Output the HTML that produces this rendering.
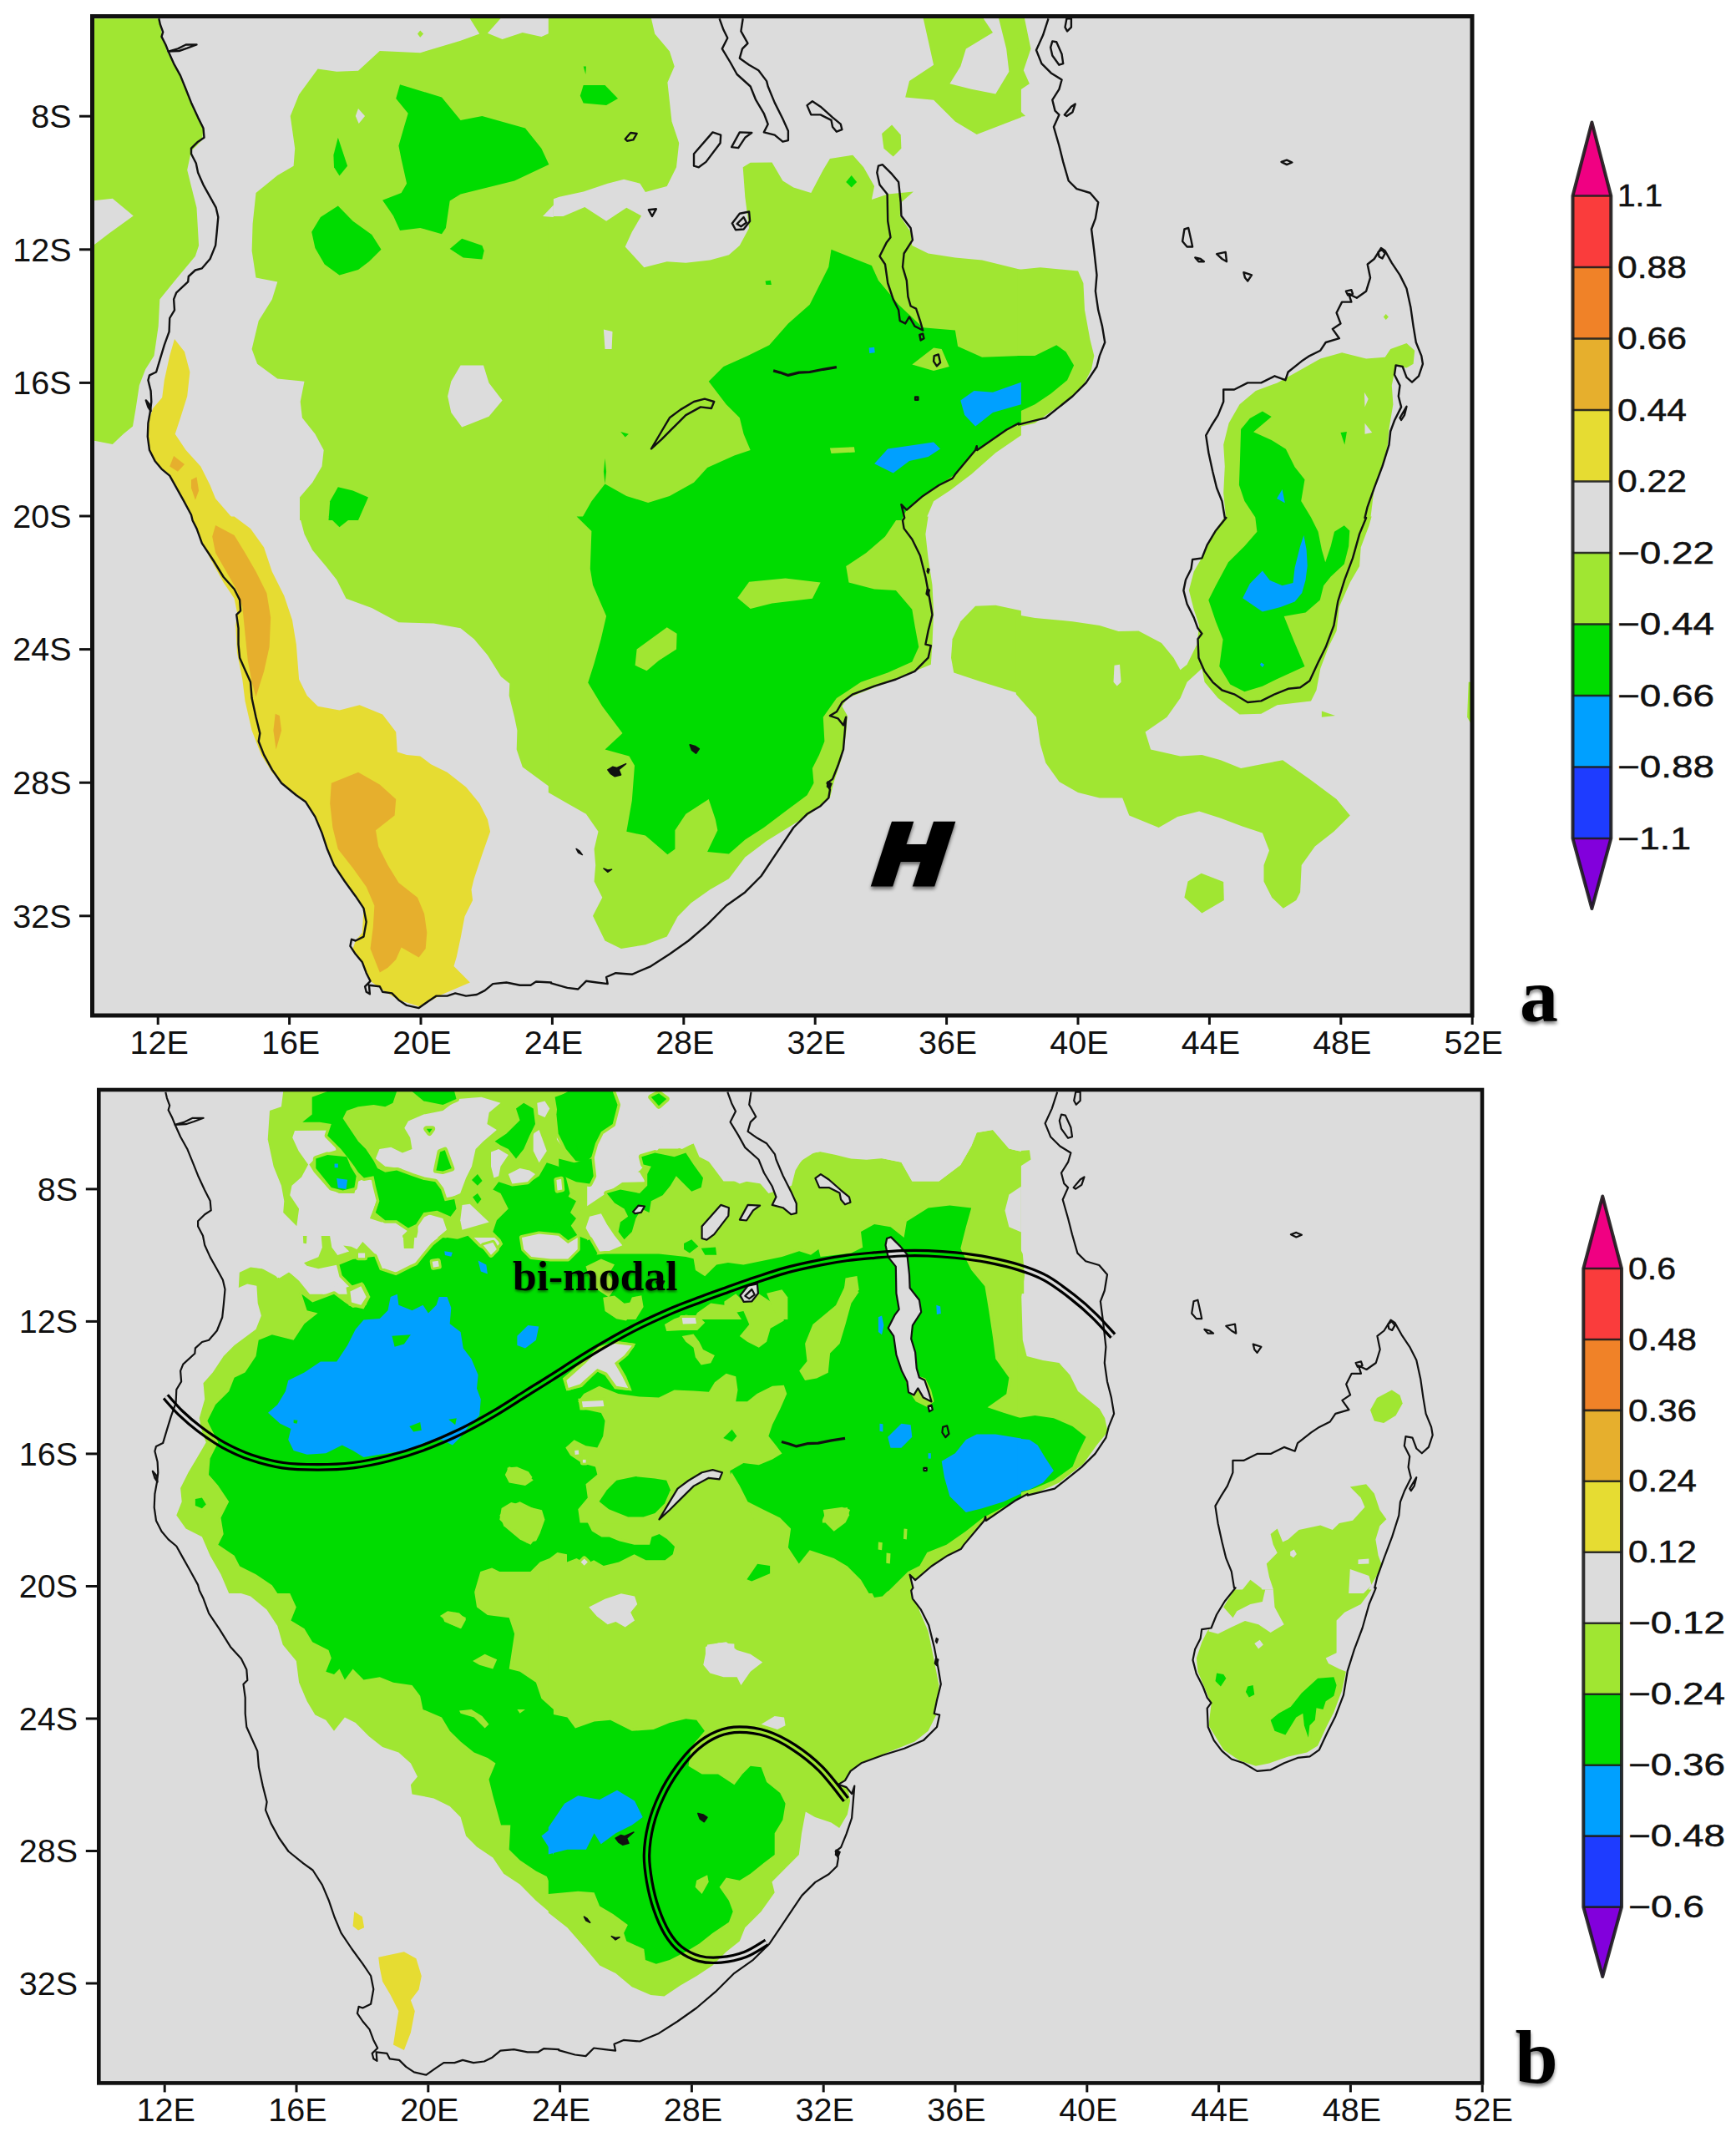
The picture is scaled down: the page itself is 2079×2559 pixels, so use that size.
<!DOCTYPE html><html><head><meta charset="utf-8"><title>fig</title><style>html,body{margin:0;padding:0;background:#fff}svg{display:block}</style></head><body><svg width="2079" height="2559" viewBox="0 0 2079 2559" font-family="'Liberation Sans', sans-serif" fill="#111"><defs><clipPath id="ca"><rect x="110.5" y="19.5" width="1652.5" height="1196.5"/></clipPath><clipPath id="cb"><rect x="118.3" y="1305" width="1656.7" height="1189.4"/></clipPath><filter id="sh" x="-20%" y="-20%" width="140%" height="150%"><feGaussianBlur in="SourceAlpha" stdDeviation="2.2"/><feOffset dx="0" dy="3"/><feComponentTransfer><feFuncA type="linear" slope="0.55"/></feComponentTransfer><feMerge><feMergeNode/><feMergeNode in="SourceGraphic"/></feMerge></filter><filter id="sh2" x="-10%" y="-20%" width="120%" height="150%"><feGaussianBlur in="SourceAlpha" stdDeviation="1.6"/><feOffset dx="0" dy="2"/><feComponentTransfer><feFuncA type="linear" slope="0.5"/></feComponentTransfer><feMerge><feMergeNode/><feMergeNode in="SourceGraphic"/></feMerge></filter></defs><rect width="2079" height="2559" fill="#fff"/><rect x="110.5" y="19.5" width="1652.5" height="1196.5" fill="#dcdcdc"/><g clip-path="url(#ca)"><path d="M112.9 22.3 L190.3 22.3 L193.5 39.0 L200.0 61.6 L216.1 90.6 L229.0 122.9 L243.5 155.2 L241.9 168.1 L229.0 181.0 L224.2 203.5 L229.0 222.9 L235.5 248.7 L238.1 293.9 L233.9 306.8 L209.7 335.8 L191.3 358.4 L189.7 390.6 L184.5 426.1 L174.2 442.3 L166.8 461.6 L162.9 487.4 L159.0 510.6 L147.7 519.7 L134.8 531.9 L112.9 527.7Z" fill="#a0e632"/><path d="M561.3 19.7 L601.6 19.7 L583.9 39.7 L601.6 47.1 L625.8 39.0 L648.4 43.9 L662.9 37.4 L662.9 622.9 L359.0 622.9 L359.0 595.5 L374.2 577.7 L385.5 558.4 L387.7 539.0 L377.4 519.7 L361.9 500.3 L359.7 481.0 L364.5 456.8 L332.3 453.5 L308.1 435.8 L301.6 418.1 L309.7 384.2 L325.8 358.4 L332.3 337.4 L306.5 332.6 L301.6 300.3 L302.6 268.1 L306.5 231.0 L332.3 210.0 L351.6 198.7 L353.2 177.7 L347.7 139.0 L358.1 113.2 L380.6 82.6 L403.2 85.8 L429.0 84.8 L454.8 61.0 L503.2 63.2 L551.6 48.7 L574.2 40.6Z" fill="#a0e632"/><path d="M503.2 36.5 L507.1 40.6 L503.2 44.8 L500.0 40.6Z" fill="#a0e632"/><path d="M656.8 19.7 L779.4 19.7 L784.2 40.6 L801.9 61.6 L807.7 79.4 L799.4 98.7 L804.5 145.5 L813.2 171.3 L810.0 200.3 L798.7 222.9 L772.9 230.0 L766.5 219.7 L747.1 214.8 L727.7 219.7 L698.7 229.4 L669.7 235.8 L656.8 240.6Z" fill="#a0e632"/><path d="M656.8 259.0 L674.5 259.0 L700.3 248.1 L726.1 264.8 L750.3 248.7 L768.1 258.4 L756.8 277.7 L748.7 295.5 L771.3 320.3 L798.7 313.2 L821.3 314.8 L850.3 311.6 L872.9 305.2 L885.8 293.9 L897.1 272.9 L892.3 235.8 L889.7 200.3 L898.7 194.8 L924.5 194.5 L937.4 216.5 L950.3 224.5 L971.3 231.0 L985.8 203.5 L993.9 190.0 L1021.3 185.8 L1034.2 200.3 L1047.1 222.9 L1043.9 239.0 L1063.2 232.6 L1093.9 229.4 L1079.4 242.3 L1077.7 258.4 L1090.6 277.7 L1092.3 293.9 L1111.6 303.5 L1143.9 308.4 L1176.1 311.6 L1222.9 322.9 L1222.9 521.3 L1192.3 542.3 L1163.2 568.1 L1137.4 587.4 L1118.1 600.3 L1108.4 622.9 L656.8 622.9Z" fill="#a0e632"/><path d="M1105.2 19.7 L1118.1 77.7 L1089.0 97.1 L1084.2 116.5 L1118.1 119.7 L1143.9 145.5 L1169.7 161.0 L1222.9 140.6 L1222.9 19.7Z" fill="#a0e632"/><path d="M1068.1 149.4 L1078.7 161.6 L1079.4 177.7 L1069.7 187.4 L1058.4 177.7 L1056.1 160.0Z" fill="#a0e632"/><path d="M1218.4 19.7 L1226.5 19.7 L1234.5 58.4 L1225.8 84.2 L1232.9 100.3 L1218.4 110.0Z" fill="#a0e632"/><path d="M1218.4 129.4 L1228.1 139.0 L1218.4 140.6Z" fill="#a0e632"/><path d="M1218.4 322.9 L1245.8 320.3 L1291.0 324.5 L1297.4 339.0 L1299.0 371.3 L1305.5 406.8 L1310.3 426.1 L1307.1 442.3 L1297.4 461.6 L1281.3 477.7 L1261.9 490.6 L1239.4 506.8 L1218.4 511.6Z" fill="#a0e632"/><path d="M1468.4 622.9 L1465.2 590.6 L1466.8 558.4 L1465.2 532.6 L1471.6 506.8 L1484.5 484.2 L1503.9 468.1 L1529.7 458.4 L1558.7 442.3 L1581.3 429.4 L1607.1 422.3 L1636.1 429.4 L1658.7 427.7 L1665.2 418.1 L1684.5 411.0 L1694.2 419.7 L1692.6 435.8 L1684.5 440.6 L1671.6 437.4 L1666.8 461.6 L1668.4 484.2 L1663.5 513.2 L1661.9 532.6 L1655.5 558.4 L1645.8 584.2 L1641.0 622.9Z" fill="#a0e632"/><path d="M1659.7 376.1 L1662.9 379.4 L1659.7 382.9 L1656.8 379.4Z" fill="#a0e632"/><path d="M359.0 618.4 L364.5 639.4 L374.2 658.7 L390.3 678.1 L403.2 694.2 L414.5 716.8 L445.2 728.1 L477.4 745.2 L519.4 746.5 L551.6 752.3 L567.7 765.2 L583.9 784.5 L600.0 810.3 L610.3 818.4 L609.7 832.9 L616.1 858.7 L619.4 874.8 L618.7 897.4 L625.8 918.4 L662.9 945.8 L662.9 618.4Z" fill="#a0e632"/><path d="M656.8 618.4 L1111.6 618.4 L1108.4 639.4 L1111.6 668.4 L1116.5 700.6 L1118.1 732.9 L1116.5 771.6 L1114.8 795.8 L1079.4 810.3 L1047.1 823.2 L1014.8 836.1 L1008.4 845.8 L1014.8 857.1 L1013.2 878.1 L1008.4 907.1 L998.7 936.1 L993.9 955.5 L969.7 974.8 L943.9 991.0 L918.1 1007.1 L892.3 1026.5 L872.9 1052.3 L850.3 1065.2 L827.7 1081.3 L811.6 1097.4 L798.7 1121.6 L772.9 1131.3 L743.9 1136.1 L724.5 1126.5 L710.0 1096.8 L721.3 1074.8 L711.6 1055.5 L713.2 1036.1 L711.6 1016.8 L716.5 995.8 L701.9 974.8 L679.4 961.9 L656.8 949.0Z" fill="#a0e632"/><path d="M1222.9 731.3 L1192.3 724.8 L1168.1 725.8 L1150.3 744.2 L1140.6 765.2 L1139.0 787.7 L1142.3 805.5 L1176.1 816.8 L1222.9 831.3Z" fill="#a0e632"/><path d="M1466.8 618.4 L1452.3 639.4 L1442.6 661.9 L1429.7 684.5 L1423.9 707.1 L1429.7 729.7 L1436.1 749.0 L1433.5 771.6 L1439.4 800.6 L1442.6 816.8 L1458.7 836.1 L1484.5 855.5 L1510.3 854.8 L1529.7 844.2 L1570.0 839.4 L1576.5 826.5 L1581.3 800.6 L1591.0 774.8 L1600.6 755.5 L1603.9 726.5 L1616.8 697.4 L1628.1 678.1 L1629.7 655.5 L1639.4 629.7 L1642.6 618.4Z" fill="#a0e632"/><path d="M1216.8 736.1 L1239.4 740.0 L1284.5 744.2 L1316.8 749.0 L1339.4 756.1 L1363.5 755.5 L1391.0 770.0 L1405.5 787.7 L1413.5 802.3 L1421.6 795.8 L1433.5 771.6 L1439.4 800.6 L1421.6 816.8 L1413.5 836.1 L1397.4 858.7 L1371.6 876.5 L1378.1 897.4 L1413.5 905.5 L1439.4 903.9 L1461.9 910.3 L1486.1 920.0 L1510.3 915.2 L1536.1 910.3 L1568.4 932.9 L1600.6 957.1 L1616.8 976.5 L1597.4 995.8 L1574.8 1013.5 L1558.7 1036.1 L1557.1 1068.4 L1552.3 1078.1 L1536.8 1087.7 L1523.2 1074.8 L1513.5 1055.5 L1513.5 1036.1 L1520.0 1018.4 L1511.9 997.4 L1487.7 989.4 L1461.9 979.7 L1436.1 971.6 L1410.3 978.1 L1387.7 991.0 L1352.3 976.5 L1344.2 955.5 L1316.8 955.5 L1291.0 949.0 L1268.4 936.1 L1252.3 913.5 L1245.8 891.0 L1241.0 858.7 L1216.8 831.3Z" fill="#a0e632"/><path d="M1438.7 1045.8 L1465.2 1056.1 L1465.8 1078.1 L1439.4 1093.5 L1418.4 1074.8 L1422.6 1055.5Z" fill="#a0e632"/><path d="M1582.9 851.6 L1599.0 857.1 L1582.9 858.7Z" fill="#a0e632"/><path d="M1758.7 816.8 L1762.6 816.8 L1762.6 868.4 L1757.1 858.7Z" fill="#a0e632"/><path d="M109.7 240.6 L134.8 237.7 L159.7 258.4 L130.6 279.4 L109.7 295.5Z" fill="#dcdcdc"/><path d="M429.0 130.0 L437.1 139.0 L429.7 148.1 L425.8 139.0Z" fill="#dcdcdc"/><path d="M551.6 437.4 L579.0 437.4 L585.5 458.4 L601.6 479.4 L585.5 498.7 L553.2 511.6 L540.3 493.9 L536.1 474.5 L540.3 456.8Z" fill="#dcdcdc"/><path d="M662.9 245.5 L650.0 259.0 L662.9 260.0Z" fill="#dcdcdc"/><path d="M1176.1 19.7 L1189.0 39.0 L1156.8 58.4 L1150.3 79.4 L1137.4 100.3 L1163.2 106.8 L1192.3 112.6 L1208.4 85.8 L1205.2 58.4 L1195.5 19.7Z" fill="#dcdcdc"/><path d="M722.9 394.5 L733.5 397.1 L732.6 418.1 L724.5 418.1Z" fill="#dcdcdc"/><path d="M1633.9 469.7 L1638.7 477.7 L1634.5 487.4Z" fill="#dcdcdc"/><path d="M1634.5 506.8 L1643.2 518.1 L1634.5 519.7Z" fill="#dcdcdc"/><path d="M1334.5 796.8 L1341.0 795.8 L1342.6 816.8 L1337.7 821.6 L1333.5 816.8Z" fill="#dcdcdc"/><path d="M479.0 101.3 L529.0 116.5 L551.6 143.9 L577.4 139.0 L629.0 153.5 L648.4 177.7 L657.4 197.1 L616.1 216.5 L551.6 232.6 L538.7 240.6 L533.9 272.9 L529.0 280.3 L503.2 272.9 L479.0 276.1 L471.0 258.4 L458.1 239.7 L480.6 231.0 L487.1 219.7 L480.6 190.6 L477.4 174.5 L483.9 151.9 L488.7 135.8 L474.2 118.1Z" fill="#00dc00"/><path d="M404.8 246.5 L422.6 264.8 L445.2 281.0 L456.5 298.7 L441.9 313.2 L429.0 322.9 L406.5 329.4 L388.7 316.5 L377.4 297.1 L373.2 277.7 L383.9 260.0Z" fill="#00dc00"/><path d="M404.8 164.8 L411.3 184.2 L416.1 198.7 L406.5 210.6 L400.0 200.3 L399.4 185.8Z" fill="#00dc00"/><path d="M553.2 285.8 L577.4 293.9 L579.7 300.3 L577.4 310.6 L554.8 308.4 L538.7 298.1Z" fill="#00dc00"/><path d="M404.8 583.2 L422.6 587.4 L441.0 595.5 L429.0 622.9 L393.5 622.9 L395.2 600.3Z" fill="#00dc00"/><path d="M698.7 101.9 L724.5 101.9 L740.0 118.1 L726.1 126.1 L698.7 123.5 L694.8 114.8Z" fill="#00dc00"/><path d="M698.7 79.4 L701.9 79.4 L701.3 89.0Z" fill="#00dc00"/><path d="M995.5 298.7 L1043.9 318.1 L1051.9 335.8 L1076.1 364.8 L1105.2 392.3 L1143.9 395.5 L1147.1 414.8 L1176.1 427.7 L1222.9 426.1 L1222.9 506.8 L1205.2 514.8 L1189.0 526.1 L1168.1 540.6 L1143.9 568.1 L1124.5 581.0 L1105.2 593.9 L1085.8 610.6 L1079.4 622.9 L695.5 622.9 L708.4 600.3 L724.5 579.4 L722.9 564.8 L724.5 548.7 L726.1 564.8 L724.5 579.4 L750.3 593.9 L776.1 601.9 L801.9 593.9 L831.0 577.7 L847.1 560.0 L879.4 545.5 L898.7 539.0 L890.6 519.7 L885.8 500.3 L869.7 484.2 L848.7 456.8 L866.5 439.0 L895.5 426.1 L921.3 413.2 L943.9 387.4 L969.7 364.8 L981.0 342.3 L992.3 319.7Z" fill="#00dc00"/><path d="M1019.7 210.0 L1026.1 218.1 L1019.7 224.5 L1013.2 218.1Z" fill="#00dc00"/><path d="M916.5 336.5 L922.9 335.8 L923.9 341.0 L917.4 341.0Z" fill="#00dc00"/><path d="M743.2 517.1 L752.9 519.7 L748.7 523.5Z" fill="#00dc00"/><path d="M1218.4 426.1 L1239.4 426.1 L1265.2 413.2 L1276.5 421.3 L1286.1 437.4 L1278.1 455.2 L1258.7 471.3 L1239.4 484.2 L1218.4 493.9Z" fill="#00dc00"/><path d="M1605.5 518.1 L1612.9 517.1 L1610.3 532.6Z" fill="#00dc00"/><path d="M393.5 618.4 L406.5 631.3 L422.6 618.4Z" fill="#00dc00"/><path d="M690.6 618.4 L708.4 636.1 L706.8 681.3 L710.0 700.6 L726.1 737.7 L719.7 765.2 L711.6 794.2 L704.2 817.4 L721.3 845.8 L745.5 878.1 L724.5 897.4 L753.5 905.5 L760.0 916.8 L756.8 958.7 L750.3 995.8 L772.9 1000.6 L799.4 1023.2 L808.4 1016.8 L808.4 994.2 L821.3 974.8 L848.7 957.1 L856.8 981.3 L859.4 994.2 L847.1 1020.0 L872.9 1022.6 L892.3 1005.5 L914.8 991.0 L940.6 971.6 L966.5 952.3 L974.5 937.7 L972.9 920.0 L981.0 903.9 L987.4 887.7 L985.8 858.7 L1001.9 836.1 L1031.0 816.8 L1063.2 805.5 L1092.3 792.6 L1100.3 774.8 L1095.5 749.0 L1092.3 729.7 L1072.9 707.1 L1047.1 705.5 L1016.5 697.4 L1013.2 678.1 L1037.4 661.9 L1060.0 642.6 L1076.1 618.4Z" fill="#00dc00"/><path d="M1511.9 492.5 L1522.7 499.0 L1501.1 517.3 L1522.7 527.0 L1539.9 537.7 L1550.6 559.2 L1562.5 574.3 L1558.2 600.1 L1570.0 619.5 L1578.6 636.7 L1582.9 658.2 L1587.2 673.3 L1593.7 653.9 L1598.0 636.7 L1609.8 629.2 L1616.3 635.6 L1615.2 653.9 L1609.8 675.4 L1593.7 690.5 L1585.1 701.3 L1580.8 718.5 L1563.5 733.5 L1537.7 737.9 L1550.6 770.1 L1562.5 798.1 L1529.1 813.2 L1511.9 821.8 L1490.4 828.2 L1473.2 819.6 L1460.3 798.1 L1464.6 765.8 L1456.0 744.3 L1447.3 718.5 L1456.0 701.3 L1471.0 673.3 L1490.4 653.9 L1505.4 636.7 L1503.3 619.5 L1490.4 600.1 L1483.9 580.8 L1485.0 550.6 L1486.1 514.1 L1496.8 501.1Z" fill="#00dc00"/><path d="M1092.3 436.5 L1118.1 416.5 L1127.7 418.1 L1136.8 439.0 L1118.1 443.9Z" fill="#a0e632"/><path d="M993.9 536.5 L1022.9 535.2 L1023.9 541.6 L995.5 542.9Z" fill="#a0e632"/><path d="M897.1 696.8 L940.6 692.6 L982.6 697.4 L972.9 716.8 L924.5 722.6 L898.7 729.0 L883.2 716.1Z" fill="#a0e632"/><path d="M762.6 777.4 L798.7 751.3 L810.6 758.7 L810.0 777.4 L789.0 791.0 L774.5 803.2 L760.6 796.8Z" fill="#a0e632"/><path d="M1150.3 479.4 L1166.5 468.1 L1189.0 469.7 L1222.9 457.7 L1222.9 484.2 L1189.0 493.9 L1168.1 510.6 L1155.2 497.1Z" fill="#00a0ff"/><path d="M1047.1 555.2 L1063.2 537.4 L1118.1 529.4 L1126.1 537.4 L1111.6 547.1 L1089.0 551.9 L1069.7 566.5Z" fill="#00a0ff"/><path d="M1040.6 416.5 L1047.1 415.8 L1047.7 422.3 L1041.3 422.9Z" fill="#00a0ff"/><path d="M1218.4 469.7 L1222.6 474.5 L1218.4 482.6Z" fill="#00a0ff"/><path d="M1510.3 793.5 L1514.2 795.8 L1511.9 799.0 L1509.0 796.1Z" fill="#00a0ff"/><path d="M1511.9 683.6 L1520.5 694.8 L1535.6 701.3 L1548.5 698.0 L1550.6 679.8 L1557.1 653.9 L1561.4 641.0 L1564.6 658.2 L1565.7 677.6 L1563.5 694.8 L1559.2 709.9 L1550.6 720.6 L1533.4 727.1 L1511.9 732.5 L1488.2 716.3 L1496.8 699.1Z" fill="#00a0ff"/><path d="M1535.6 586.1 L1538.8 602.3 L1529.1 596.9Z" fill="#00a0ff"/><path d="M209.0 406.1 L221.0 421.3 L227.4 445.5 L224.2 474.5 L216.1 500.3 L209.7 519.7 L222.6 539.0 L240.3 558.4 L251.6 581.0 L258.1 597.1 L280.6 622.9 L230.6 622.9 L219.4 597.1 L203.2 568.1 L190.3 558.4 L179.0 539.0 L176.8 519.7 L179.0 500.3 L183.2 489.0 L194.2 476.1 L196.8 455.2 L203.2 426.1Z" fill="#e6dc32"/><path d="M280.6 618.4 L300.0 632.9 L316.1 655.5 L325.8 684.5 L340.3 713.5 L350.0 742.6 L354.8 771.6 L358.1 813.5 L367.7 832.9 L380.6 845.8 L406.5 850.6 L430.6 844.2 L458.1 855.5 L474.2 876.5 L475.8 900.6 L487.1 903.9 L503.2 905.5 L516.1 915.2 L535.5 924.8 L558.1 942.6 L574.2 961.9 L583.9 981.3 L587.1 995.8 L577.4 1023.2 L567.7 1052.3 L564.5 1065.2 L566.1 1078.1 L556.5 1097.4 L551.6 1123.2 L546.8 1145.8 L543.5 1157.1 L562.9 1176.5 L529.0 1191.0 L503.2 1205.5 L477.4 1197.4 L454.8 1182.9 L443.5 1174.8 L435.5 1155.5 L422.6 1136.1 L425.8 1126.5 L433.9 1116.8 L435.5 1087.7 L425.8 1073.2 L412.9 1055.5 L400.0 1036.1 L391.9 1016.8 L385.5 997.4 L377.4 978.1 L366.1 960.3 L354.8 952.3 L337.1 937.7 L325.8 924.8 L312.9 903.9 L301.6 874.8 L293.5 839.4 L290.3 813.5 L283.9 781.3 L282.3 749.0 L283.9 732.9 L280.6 716.8 L267.7 697.4 L251.6 668.4 L238.7 642.6 L229.0 618.4Z" fill="#e6dc32"/><path d="M208.1 546.1 L221.0 556.1 L212.9 564.8 L203.2 558.4Z" fill="#e6af2d"/><path d="M229.0 574.5 L235.5 571.3 L238.1 587.4 L233.9 598.7 L229.0 584.2Z" fill="#e6af2d"/><path d="M258.1 629.0 L280.6 641.0 L293.5 661.9 L306.5 684.5 L319.4 710.3 L324.2 739.4 L322.6 774.8 L316.1 803.9 L306.5 834.5 L301.6 816.8 L296.8 791.0 L293.5 758.7 L290.3 726.5 L283.9 707.1 L271.0 684.5 L258.1 661.9 L254.2 642.6Z" fill="#e6af2d"/><path d="M329.7 854.8 L334.8 857.1 L337.1 874.8 L330.6 897.4 L327.4 874.8Z" fill="#e6af2d"/><path d="M396.8 937.7 L429.0 924.8 L454.8 939.4 L474.2 957.1 L472.6 976.5 L450.0 994.2 L453.2 1013.5 L464.5 1036.1 L477.4 1057.1 L500.0 1074.8 L508.1 1094.2 L511.3 1116.8 L509.7 1136.1 L501.6 1146.5 L480.6 1134.5 L474.2 1149.0 L464.5 1158.7 L454.8 1164.5 L443.5 1136.1 L446.8 1110.3 L448.4 1084.5 L438.7 1061.9 L422.6 1039.4 L404.8 1016.8 L398.4 991.0 L395.2 961.9Z" fill="#e6af2d"/><path d="M190.3 22.3 L191.9 29.4 L195.2 38.4 L193.5 43.9 L198.4 53.5 L201.6 61.6 L208.1 76.1 L216.1 90.6 L222.6 106.8 L229.0 122.9 L237.1 140.6 L243.5 153.5 L244.5 164.8 L237.1 169.7 L229.0 177.7 L229.0 184.2 L234.8 195.5 L237.1 206.8 L243.5 221.3 L251.6 235.8 L258.7 248.7 L261.3 260.0 L259.7 277.7 L258.1 293.9 L251.6 310.0 L241.9 321.3 L233.9 323.5 L225.8 331.0 L225.2 337.4 L211.3 350.3 L208.1 358.4 L209.0 371.3 L203.2 381.0 L202.6 397.1 L196.8 413.2 L191.9 429.4 L187.1 445.5 L179.0 449.4 L177.4 455.2 L180.6 468.1 L181.3 481.0 L180.0 492.3 L177.4 506.8 L176.8 522.9 L179.0 539.0 L185.5 551.9 L193.5 561.6 L203.2 569.7 L211.3 584.2 L219.4 598.7 L229.0 616.5 L230.6 623.2 L235.5 632.9 L241.9 650.6 L254.8 670.0 L267.7 691.0 L280.6 705.5 L287.1 718.4 L288.1 731.3 L283.2 736.1 L285.5 752.3 L285.5 771.6 L287.1 787.7 L293.5 802.3 L300.0 816.8 L301.6 836.1 L306.5 858.7 L311.3 878.1 L309.7 887.7 L316.1 903.9 L325.8 921.6 L337.1 937.7 L354.8 952.3 L366.1 960.3 L377.4 978.1 L385.5 997.4 L391.9 1016.8 L400.0 1036.1 L412.9 1055.5 L425.8 1073.2 L435.5 1087.7 L438.7 1103.9 L435.5 1121.6 L425.8 1126.5 L421.0 1124.8 L419.4 1132.9 L425.8 1142.6 L433.9 1152.3 L438.7 1165.2 L443.5 1174.8 L437.1 1181.3 L438.7 1187.7 L442.9 1190.3 L441.9 1179.7 L454.8 1181.3 L458.1 1187.7 L469.4 1189.4 L477.4 1197.4 L487.1 1203.9 L501.6 1207.1 L512.9 1199.0 L522.6 1192.6 L535.5 1192.6 L545.2 1189.4 L558.1 1192.6 L571.0 1191.0 L580.6 1186.1 L590.3 1178.1 L606.5 1176.5 L622.6 1179.7 L635.5 1179.7 L641.9 1175.5 L660.0 1176.5 L660.0 1177.4 L679.4 1182.9 L692.3 1184.5 L701.9 1174.8 L714.8 1176.5 L727.7 1178.1 L726.1 1170.0 L737.4 1165.2 L756.8 1166.8 L779.4 1157.1 L801.9 1142.6 L824.5 1126.5 L847.1 1107.1 L869.7 1084.5 L892.3 1068.4 L911.6 1049.0 L924.5 1029.7 L937.4 1010.3 L950.3 991.0 L966.5 974.8 L982.6 965.2 L992.3 955.5 L993.9 945.8 L990.6 937.7 L997.1 932.9 L1003.5 916.8 L1010.0 897.4 L1011.6 878.1 L1013.2 858.7 L1010.0 868.4 L1003.5 860.3 L993.9 857.1 L1001.9 852.3 L1008.4 841.0 L1021.3 831.3 L1047.1 821.6 L1072.9 813.5 L1095.5 803.9 L1111.6 787.7 L1114.8 773.2 L1108.4 771.6 L1111.6 755.5 L1116.5 736.1 L1113.2 716.8 L1108.4 691.0 L1101.9 665.2 L1092.3 645.8 L1082.6 632.9 L1081.0 623.2 L1083.2 620.0 L1079.4 604.2 L1085.8 610.6 L1105.2 593.9 L1124.5 581.0 L1140.6 572.9 L1143.9 568.1 L1168.1 539.0 L1169.7 534.2 L1170.3 539.0 L1189.0 526.1 L1205.2 514.8 L1220.0 506.8 L1220.0 508.4 L1232.9 505.2 L1252.3 500.3 L1268.4 487.4 L1284.5 474.5 L1300.6 458.4 L1313.5 439.0 L1316.8 426.1 L1323.2 410.0 L1320.0 390.6 L1315.2 371.3 L1311.9 348.7 L1313.5 329.4 L1310.3 300.3 L1307.1 274.5 L1311.9 261.6 L1315.2 242.3 L1305.5 231.0 L1289.4 226.1 L1279.7 216.5 L1273.2 193.9 L1268.4 174.5 L1261.9 151.9 L1268.4 137.4 L1263.5 132.6 L1260.3 119.7 L1268.4 106.8 L1271.6 95.5 L1258.7 87.4 L1247.4 76.1 L1241.0 60.0 L1249.0 42.3 L1255.5 22.3" fill="none" stroke="#111" stroke-width="2.4" stroke-linejoin="round"/><path d="M201.6 61.6 L212.9 58.4 L222.6 53.5 L235.5 53.5 L224.2 57.7 L214.5 61.0Z" fill="none" stroke="#111" stroke-width="2.4" stroke-linejoin="round"/><path d="M174.8 479.4 L179.0 484.2 L180.6 492.3 L177.4 487.4Z" fill="none" stroke="#111" stroke-width="2.4" stroke-linejoin="round"/><path d="M1653.9 297.1 L1658.7 300.3 L1666.8 314.8 L1676.5 329.4 L1684.5 345.5 L1689.4 368.1 L1692.6 390.6 L1695.8 410.0 L1702.3 426.1 L1703.9 435.8 L1699.0 450.3 L1691.0 457.7 L1684.5 451.9 L1679.7 439.0 L1671.6 437.4 L1670.0 448.7 L1676.5 461.6 L1674.8 474.5 L1678.1 487.4 L1670.0 503.5 L1665.2 516.5 L1663.5 532.6 L1655.5 558.4 L1645.8 584.2 L1637.7 606.8 L1634.5 620.0 L1636.1 620.0 L1628.1 639.4 L1620.0 668.4 L1610.3 694.2 L1602.3 720.0 L1597.4 749.0 L1587.7 774.8 L1578.1 794.2 L1568.4 815.2 L1557.1 823.2 L1542.6 824.8 L1526.5 831.3 L1510.3 839.4 L1494.2 841.0 L1478.1 831.3 L1463.5 826.5 L1452.3 816.8 L1442.6 803.9 L1435.5 787.7 L1434.5 765.2 L1439.4 758.7 L1434.5 752.3 L1429.7 739.4 L1421.6 723.2 L1417.4 707.1 L1420.0 694.2 L1426.5 681.3 L1428.1 670.0 L1439.4 668.4 L1445.8 652.3 L1455.5 636.1 L1468.4 620.0 L1466.8 620.0 L1463.5 600.3 L1457.1 584.2 L1452.3 564.8 L1447.4 542.3 L1444.2 521.3 L1450.6 510.0 L1458.7 497.1 L1465.2 481.0 L1465.2 466.5 L1478.1 466.5 L1494.2 458.4 L1510.3 458.4 L1526.5 450.3 L1539.4 455.2 L1542.6 445.5 L1558.7 432.6 L1568.4 426.1 L1581.3 419.7 L1587.7 410.0 L1603.9 405.2 L1595.8 393.9 L1605.5 387.4 L1600.6 374.5 L1607.1 361.6 L1618.4 361.6 L1615.2 351.9 L1624.8 356.8 L1636.1 348.7 L1641.0 332.6 L1637.7 316.5 L1645.8 310.0 L1653.9 297.1Z" fill="none" stroke="#111" stroke-width="2.4" stroke-linejoin="round"/><path d="M1650.6 301.9 L1654.8 298.7 L1658.7 303.5 L1655.5 309.4 L1651.6 307.4Z" fill="none" stroke="#111" stroke-width="2.4" stroke-linejoin="round"/><path d="M1676.5 500.3 L1684.5 486.8 L1681.9 497.1 L1678.1 502.9Z" fill="none" stroke="#111" stroke-width="2.4" stroke-linejoin="round"/><path d="M1611.9 348.7 L1618.4 347.1 L1620.0 351.9 L1614.2 353.5Z" fill="none" stroke="#111" stroke-width="2.4" stroke-linejoin="round"/><path d="M1260.3 49.4 L1265.2 50.3 L1271.6 64.8 L1273.2 76.1 L1268.4 77.7 L1260.3 66.5 L1258.1 56.8Z" fill="none" stroke="#111" stroke-width="2.4" stroke-linejoin="round"/><path d="M1277.4 22.3 L1282.9 22.3 L1282.9 32.6 L1278.1 37.4 L1275.5 32.6Z" fill="none" stroke="#111" stroke-width="2.4" stroke-linejoin="round"/><path d="M1274.8 137.4 L1282.9 127.7 L1287.7 124.5 L1284.5 134.2 L1277.4 139.0Z" fill="none" stroke="#111" stroke-width="2.4" stroke-linejoin="round"/><path d="M1418.4 274.5 L1423.2 272.9 L1426.5 287.4 L1428.1 295.5 L1421.6 295.5 L1416.1 289.0Z" fill="none" stroke="#111" stroke-width="2.4" stroke-linejoin="round"/><path d="M1431.3 308.4 L1437.7 310.0 L1441.9 313.2 L1435.5 313.2Z" fill="none" stroke="#111" stroke-width="2.4" stroke-linejoin="round"/><path d="M1457.1 304.2 L1467.7 301.9 L1469.0 313.2 L1463.5 310.0Z" fill="none" stroke="#111" stroke-width="2.4" stroke-linejoin="round"/><path d="M1489.4 326.1 L1499.0 329.4 L1494.2 336.5 L1491.0 332.6Z" fill="none" stroke="#111" stroke-width="2.4" stroke-linejoin="round"/><path d="M1534.5 193.9 L1541.0 191.6 L1547.4 194.5 L1541.0 197.1Z" fill="none" stroke="#111" stroke-width="2.4" stroke-linejoin="round"/><path d="M861.6 22.3 L866.5 35.8 L871.3 45.5 L864.8 58.4 L874.5 74.5 L882.6 89.0 L898.7 103.5 L905.2 119.7 L914.8 135.8 L919.7 148.7 L914.8 158.4 L927.7 161.6 L937.4 169.7 L943.9 168.1 L943.9 156.8 L937.4 142.3 L927.7 122.9 L919.7 103.5 L918.1 97.1 L908.4 84.2 L897.1 77.7 L885.8 69.7 L889.0 58.4 L895.5 51.9 L887.4 37.4 L889.7 22.3" fill="none" stroke="#111" stroke-width="2.4" stroke-linejoin="round"/><path d="M831.0 184.2 L853.5 158.4 L863.2 161.6 L862.6 171.3 L845.5 193.9 L836.8 200.3 L831.0 198.7Z" fill="none" stroke="#111" stroke-width="2.4" stroke-linejoin="round"/><path d="M876.1 176.1 L885.8 158.4 L900.3 159.0 L892.3 164.8 L884.2 177.1Z" fill="none" stroke="#111" stroke-width="2.4" stroke-linejoin="round"/><path d="M966.5 126.1 L972.9 121.3 L982.6 127.7 L997.1 140.6 L1006.8 148.7 L1008.4 155.2 L1001.9 157.7 L997.1 151.9 L995.5 143.9 L982.6 137.4 L971.3 137.4Z" fill="none" stroke="#111" stroke-width="2.4" stroke-linejoin="round"/><path d="M876.8 267.4 L885.8 255.8 L897.1 253.5 L898.1 264.8 L890.6 274.5 L881.0 275.2Z" fill="none" stroke="#111" stroke-width="2.4" stroke-linejoin="round"/><path d="M882.6 268.1 L890.6 260.0 L893.9 266.5 L887.4 271.3Z" fill="none" stroke="#111" stroke-width="2.4" stroke-linejoin="round"/><path d="M748.7 166.5 L755.2 159.0 L762.6 160.0 L758.4 167.4 L751.0 168.7Z" fill="none" stroke="#111" stroke-width="2.4" stroke-linejoin="round"/><path d="M776.8 251.3 L785.8 250.3 L781.0 259.0Z" fill="none" stroke="#111" stroke-width="2.4" stroke-linejoin="round"/><path d="M1051.9 198.7 L1056.8 197.1 L1068.1 208.4 L1076.1 218.1 L1078.7 242.3 L1079.4 258.4 L1090.6 272.9 L1092.9 287.4 L1082.6 303.5 L1081.0 319.7 L1085.8 335.8 L1087.4 355.2 L1090.6 366.5 L1097.1 369.7 L1101.9 384.2 L1105.2 395.5 L1095.5 390.6 L1089.0 379.4 L1084.2 387.4 L1077.7 384.2 L1076.1 371.3 L1069.7 358.4 L1063.2 339.0 L1060.0 316.5 L1053.5 306.8 L1061.6 290.6 L1066.5 284.2 L1063.2 264.8 L1062.6 232.6 L1053.5 221.3 L1050.3 206.8Z" fill="none" stroke="#111" stroke-width="2.4" stroke-linejoin="round"/><path d="M1101.3 401.0 L1105.2 399.7 L1106.5 405.2 L1102.6 407.4Z" fill="none" stroke="#111" stroke-width="2.4" stroke-linejoin="round"/><path d="M1118.7 426.1 L1123.9 424.5 L1126.1 434.2 L1121.9 438.4 L1118.1 432.6Z" fill="none" stroke="#111" stroke-width="2.4" stroke-linejoin="round"/><path d="M926.1 443.9 L934.2 446.1 L943.9 449.4 L956.8 446.1 L969.7 445.5 L985.8 442.3 L1001.9 439.7" fill="none" stroke="#111" stroke-width="3.2" stroke-linejoin="round"/><path d="M780.0 537.4 L792.3 516.5 L801.9 500.3 L814.8 490.6 L831.0 481.0 L843.9 477.7 L855.2 481.0 L851.9 489.0 L839.0 487.4 L821.3 497.1 L805.2 513.2 L792.3 526.1Z" fill="none" stroke="#111" stroke-width="2.4" stroke-linejoin="round"/><path d="M1096.1 475.5 L1099.4 475.5 L1099.4 478.7 L1096.1 478.7Z" fill="none" stroke="#111" stroke-width="2.4" stroke-linejoin="round"/><path d="M826.3 891.9 L832.3 893.6 L837.2 896.7 L833.5 902.0 L828.7 898.4Z" fill="#111" stroke="#111" stroke-width="1.8" stroke-linejoin="round"/><path d="M727.8 921.8 L733.9 918.2 L738.7 919.4 L749.6 914.6 L741.1 921.8 L743.6 927.9 L736.3 929.8 L731.5 926.7Z" fill="#111" stroke="#111" stroke-width="1.5" stroke-linejoin="round"/><path d="M690.1 1016.4 L693.8 1018.8 L697.4 1023.6 L692.6 1021.2Z" fill="#111" stroke="#111" stroke-width="1.5" stroke-linejoin="round"/><path d="M722.9 1040.0 L727.7 1041.9 L732.6 1041.2 L727.7 1044.3Z" fill="#111" stroke="#111" stroke-width="1.5" stroke-linejoin="round"/><path d="M1111.1 680.6 L1113.0 681.8 L1111.6 686.6 L1110.1 684.2Z" fill="#111" stroke="#111" stroke-width="1.5" stroke-linejoin="round"/><path d="M1110.3 705.2 L1113.4 706.4 L1111.5 713.6 L1109.1 711.2Z" fill="#111" stroke="#111" stroke-width="1.5" stroke-linejoin="round"/><path d="M991.2 935.9 L996.0 938.3 L993.6 944.4 L990.5 942.0Z" fill="#111" stroke="#111" stroke-width="1.5" stroke-linejoin="round"/></g><rect x="110.5" y="19.5" width="1652.5" height="1196.5" fill="none" stroke="#111" stroke-width="5.0"/><path d="M95.0 139.2 H108.5" stroke="#111" stroke-width="3"/><text x="85.5" y="152.9" font-size="39.5" text-anchor="end">8S</text><path d="M95.0 298.8 H108.5" stroke="#111" stroke-width="3"/><text x="85.5" y="312.5" font-size="39.5" text-anchor="end">12S</text><path d="M95.0 458.4 H108.5" stroke="#111" stroke-width="3"/><text x="85.5" y="472.1" font-size="39.5" text-anchor="end">16S</text><path d="M95.0 618.0 H108.5" stroke="#111" stroke-width="3"/><text x="85.5" y="631.7" font-size="39.5" text-anchor="end">20S</text><path d="M95.0 777.6 H108.5" stroke="#111" stroke-width="3"/><text x="85.5" y="791.3" font-size="39.5" text-anchor="end">24S</text><path d="M95.0 937.2 H108.5" stroke="#111" stroke-width="3"/><text x="85.5" y="950.9" font-size="39.5" text-anchor="end">28S</text><path d="M95.0 1096.8 H108.5" stroke="#111" stroke-width="3"/><text x="85.5" y="1110.5" font-size="39.5" text-anchor="end">32S</text><path d="M189.2 1218.0 V1227.0" stroke="#111" stroke-width="3"/><text x="190.7" y="1261.5" font-size="39.5" text-anchor="middle">12E</text><path d="M346.6 1218.0 V1227.0" stroke="#111" stroke-width="3"/><text x="348.1" y="1261.5" font-size="39.5" text-anchor="middle">16E</text><path d="M504.0 1218.0 V1227.0" stroke="#111" stroke-width="3"/><text x="505.5" y="1261.5" font-size="39.5" text-anchor="middle">20E</text><path d="M661.4 1218.0 V1227.0" stroke="#111" stroke-width="3"/><text x="662.9" y="1261.5" font-size="39.5" text-anchor="middle">24E</text><path d="M818.8 1218.0 V1227.0" stroke="#111" stroke-width="3"/><text x="820.3" y="1261.5" font-size="39.5" text-anchor="middle">28E</text><path d="M976.2 1218.0 V1227.0" stroke="#111" stroke-width="3"/><text x="977.7" y="1261.5" font-size="39.5" text-anchor="middle">32E</text><path d="M1133.6 1218.0 V1227.0" stroke="#111" stroke-width="3"/><text x="1135.1" y="1261.5" font-size="39.5" text-anchor="middle">36E</text><path d="M1291.0 1218.0 V1227.0" stroke="#111" stroke-width="3"/><text x="1292.5" y="1261.5" font-size="39.5" text-anchor="middle">40E</text><path d="M1448.4 1218.0 V1227.0" stroke="#111" stroke-width="3"/><text x="1449.9" y="1261.5" font-size="39.5" text-anchor="middle">44E</text><path d="M1605.8 1218.0 V1227.0" stroke="#111" stroke-width="3"/><text x="1607.3" y="1261.5" font-size="39.5" text-anchor="middle">48E</text><path d="M1763.2 1218.0 V1227.0" stroke="#111" stroke-width="3"/><text x="1764.7" y="1261.5" font-size="39.5" text-anchor="middle">52E</text><path d="M1883.5 234.5 L1906.4 144.5 L1929.3 234.5 Z" fill="#f00082"/><path d="M1883.5 1004.0 L1906.4 1090.0 L1929.3 1004.0 Z" fill="#8200dc"/><rect x="1883.5" y="234.5" width="45.8" height="85.5" fill="#fa3c3c"/><rect x="1883.5" y="320.0" width="45.8" height="85.5" fill="#f08228"/><rect x="1883.5" y="405.5" width="45.8" height="85.5" fill="#e6af2d"/><rect x="1883.5" y="491.0" width="45.8" height="85.5" fill="#e6dc32"/><rect x="1883.5" y="576.5" width="45.8" height="85.5" fill="#dcdcdc"/><rect x="1883.5" y="662.0" width="45.8" height="85.5" fill="#a0e632"/><rect x="1883.5" y="747.5" width="45.8" height="85.5" fill="#00dc00"/><rect x="1883.5" y="833.0" width="45.8" height="85.5" fill="#00a0ff"/><rect x="1883.5" y="918.5" width="45.8" height="85.5" fill="#1e3cff"/><path d="M1883.5 234.5 H1929.3" stroke="#1c1c1c" stroke-width="2.6" stroke-opacity="0.9"/><path d="M1883.5 320.0 H1929.3" stroke="#1c1c1c" stroke-width="2.6" stroke-opacity="0.9"/><path d="M1883.5 405.5 H1929.3" stroke="#1c1c1c" stroke-width="2.6" stroke-opacity="0.9"/><path d="M1883.5 491.0 H1929.3" stroke="#1c1c1c" stroke-width="2.6" stroke-opacity="0.9"/><path d="M1883.5 576.5 H1929.3" stroke="#1c1c1c" stroke-width="2.6" stroke-opacity="0.9"/><path d="M1883.5 662.0 H1929.3" stroke="#1c1c1c" stroke-width="2.6" stroke-opacity="0.9"/><path d="M1883.5 747.5 H1929.3" stroke="#1c1c1c" stroke-width="2.6" stroke-opacity="0.9"/><path d="M1883.5 833.0 H1929.3" stroke="#1c1c1c" stroke-width="2.6" stroke-opacity="0.9"/><path d="M1883.5 918.5 H1929.3" stroke="#1c1c1c" stroke-width="2.6" stroke-opacity="0.9"/><path d="M1883.5 1004.0 H1929.3" stroke="#1c1c1c" stroke-width="2.6" stroke-opacity="0.9"/><path d="M1883.5 234.5 L1906.4 146.5 L1929.3 234.5 L1929.3 1004.0 L1906.4 1088.0 L1883.5 1004.0 Z" fill="none" stroke="#1c1c1c" stroke-opacity="0.9" stroke-width="4" stroke-linejoin="round"/><text x="1937.0" y="247.1" font-size="37" stroke="#111" stroke-width="0.5" textLength="54.0" lengthAdjust="spacingAndGlyphs">1.1</text><text x="1937.0" y="332.6" font-size="37" stroke="#111" stroke-width="0.5" textLength="83.0" lengthAdjust="spacingAndGlyphs">0.88</text><text x="1937.0" y="418.1" font-size="37" stroke="#111" stroke-width="0.5" textLength="83.0" lengthAdjust="spacingAndGlyphs">0.66</text><text x="1937.0" y="503.6" font-size="37" stroke="#111" stroke-width="0.5" textLength="83.0" lengthAdjust="spacingAndGlyphs">0.44</text><text x="1937.0" y="589.1" font-size="37" stroke="#111" stroke-width="0.5" textLength="83.0" lengthAdjust="spacingAndGlyphs">0.22</text><text x="1937.0" y="674.6" font-size="37" stroke="#111" stroke-width="0.5" textLength="116.0" lengthAdjust="spacingAndGlyphs">−0.22</text><text x="1937.0" y="760.1" font-size="37" stroke="#111" stroke-width="0.5" textLength="116.0" lengthAdjust="spacingAndGlyphs">−0.44</text><text x="1937.0" y="845.6" font-size="37" stroke="#111" stroke-width="0.5" textLength="116.0" lengthAdjust="spacingAndGlyphs">−0.66</text><text x="1937.0" y="931.1" font-size="37" stroke="#111" stroke-width="0.5" textLength="116.0" lengthAdjust="spacingAndGlyphs">−0.88</text><text x="1937.0" y="1016.6" font-size="37" stroke="#111" stroke-width="0.5" textLength="88.0" lengthAdjust="spacingAndGlyphs">−1.1</text><g filter="url(#sh)"><text transform="translate(1041.8,1057) skewX(-17.95) scale(1.128,1)" x="0" y="0" font-size="100" font-weight="bold" stroke="#000" stroke-width="9" stroke-linejoin="miter" fill="#000">H</text></g><text x="1820" y="1223" font-size="92" font-weight="bold" font-family="'Liberation Serif', serif" filter="url(#sh)" fill="#000">a</text><rect x="118.3" y="1305" width="1656.7" height="1189.4" fill="#dcdcdc"/><g clip-path="url(#cb)"><path d="M339.2 1306.9 L336.9 1325.3 L323.0 1330.0 L320.7 1364.5 L327.6 1396.8 L336.9 1419.8 L340.3 1438.2 L339.2 1452.1 L355.3 1468.2 L369.1 1475.1 L392.2 1482.0 L703.2 1482.0 L703.2 1306.9Z" fill="#a0e632"/><path d="M286.8 1523.7 L300.0 1517.6 L325.8 1520.8 L332.3 1530.5 L345.2 1522.4 L358.1 1533.7 L371.0 1549.8 L664.5 1549.8 L664.5 1907.9 L274.2 1907.9 L264.5 1885.3 L251.6 1862.7 L241.9 1840.2 L222.6 1830.5 L211.3 1814.4 L217.7 1798.2 L216.1 1782.1 L225.8 1762.7 L235.5 1746.6 L246.8 1727.3 L241.9 1714.4 L238.7 1698.2 L245.2 1675.6 L243.5 1656.3 L254.8 1643.4 L267.7 1624.0 L280.6 1611.1 L306.5 1591.8 L312.9 1575.6 L308.7 1560.5 L307.4 1539.8 L296.1 1537.6 L285.8 1542.1Z" fill="#a0e632"/><path d="M274.2 1903.4 L300.0 1911.5 L319.4 1927.6 L332.3 1946.9 L338.7 1969.5 L354.8 1988.9 L358.1 2014.7 L367.7 2037.3 L377.4 2053.4 L390.3 2059.8 L400.0 2072.7 L412.9 2056.6 L425.8 2063.1 L441.9 2079.2 L458.1 2092.1 L477.4 2098.5 L491.9 2111.5 L500.0 2127.6 L491.9 2137.3 L493.5 2148.5 L519.4 2153.4 L538.7 2163.1 L551.6 2176.0 L558.1 2198.5 L571.0 2211.5 L590.3 2224.4 L603.2 2243.7 L622.6 2256.6 L641.9 2276.0 L662.9 2293.7 L662.9 1903.4Z" fill="#a0e632"/><path d="M656.8 2290.5 L679.4 2308.2 L701.9 2334.0 L718.1 2353.4 L737.4 2363.1 L756.8 2379.2 L779.4 2388.9 L795.5 2390.5 L814.8 2377.6 L834.2 2366.3 L853.5 2353.4 L869.7 2337.3 L885.8 2324.4 L892.3 2308.2 L911.6 2288.9 L927.7 2266.3 L924.5 2253.4 L940.6 2237.3 L956.8 2221.1 L960.0 2195.3 L964.8 2169.5 L976.1 2176.0 L995.5 2182.4 L1005.2 2188.9 L1014.8 2172.7 L1018.1 2156.6 L1014.8 2137.3 L1014.8 2130.8 L1031.0 2114.7 L1063.2 2098.5 L1095.5 2085.6 L1111.6 2072.7 L1121.3 2053.4 L1124.5 2017.9 L1118.1 1985.6 L1111.6 1953.4 L1101.9 1930.8 L1092.3 1903.4 L656.8 1903.4Z" fill="#a0e632"/><path d="M656.8 1475.6 L766.5 1401.5 L789.0 1375.6 L811.6 1375.6 L831.0 1369.2 L847.1 1388.5 L866.5 1414.4 L892.3 1414.4 L911.6 1417.6 L918.1 1424.0 L937.4 1430.5 L950.3 1401.5 L966.5 1382.1 L982.6 1378.9 L1014.8 1380.5 L1047.1 1385.3 L1079.4 1391.8 L1092.3 1414.4 L1124.5 1414.4 L1150.3 1395.0 L1163.2 1372.4 L1169.7 1356.3 L1189.0 1353.1 L1208.4 1375.6 L1222.9 1378.9 L1222.9 1806.3 L1192.3 1827.3 L1163.2 1853.1 L1137.4 1872.4 L1118.1 1885.3 L1108.4 1907.9 L656.8 1907.9Z" fill="#a0e632"/><path d="M1218.4 1378.2 L1232.9 1377.3 L1234.5 1388.5 L1218.4 1398.9Z" fill="#a0e632"/><path d="M1218.4 1488.5 L1224.8 1501.5 L1227.1 1527.3 L1223.2 1553.1 L1224.8 1604.7 L1229.7 1624.0 L1249.0 1628.9 L1268.4 1632.1 L1281.3 1646.6 L1291.0 1666.0 L1316.8 1686.9 L1323.2 1698.2 L1326.5 1714.4 L1313.5 1730.5 L1297.4 1753.1 L1268.4 1775.6 L1239.4 1788.5 L1218.4 1796.6Z" fill="#a0e632"/><path d="M1666.8 1664.4 L1676.5 1670.8 L1679.7 1680.5 L1671.6 1695.0 L1657.1 1704.0 L1645.8 1701.5 L1641.0 1688.5 L1649.0 1674.0Z" fill="#a0e632"/><path d="M1616.8 1780.5 L1636.1 1777.3 L1645.8 1788.5 L1652.3 1807.9 L1660.3 1819.2 L1652.3 1827.3 L1647.4 1843.4 L1650.6 1862.7 L1655.5 1875.6 L1645.8 1891.8 L1636.1 1907.9 L1526.5 1907.9 L1520.0 1888.5 L1516.8 1872.4 L1529.7 1859.5 L1524.8 1849.8 L1521.6 1836.9 L1529.7 1830.5 L1536.1 1846.6 L1542.6 1843.4 L1555.5 1832.1 L1581.3 1826.6 L1595.8 1832.1 L1603.9 1824.0 L1620.0 1820.8 L1634.5 1804.7 L1629.7 1793.4Z" fill="#a0e632"/><path d="M1484.5 1907.9 L1497.4 1891.8 L1510.3 1901.5 L1513.5 1907.9Z" fill="#a0e632"/><path d="M1478.1 1903.4 L1465.2 1924.4 L1458.7 1937.3 L1445.8 1953.4 L1439.4 1966.3 L1432.9 1985.6 L1434.5 2001.8 L1442.6 2021.1 L1450.6 2040.5 L1447.4 2066.3 L1455.5 2079.2 L1465.2 2095.3 L1484.5 2108.2 L1503.9 2114.7 L1520.0 2111.5 L1542.6 2103.4 L1565.2 2098.5 L1578.1 2090.5 L1587.7 2069.5 L1597.4 2050.2 L1607.1 2024.4 L1611.9 2001.8 L1603.9 1998.5 L1591.0 1992.1 L1587.7 1985.6 L1600.6 1979.2 L1600.6 1940.5 L1610.3 1930.8 L1629.7 1921.1 L1642.6 1903.4Z" fill="#a0e632"/><path d="M353.0 1354.1 L403.7 1353.5 L409.4 1358.8 L400.2 1366.8 L402.5 1377.2 L380.6 1384.1 L370.3 1394.5 L376.0 1403.7 L392.2 1422.1 L406.0 1429.0 L424.4 1429.0 L427.9 1415.2 L438.2 1410.6 L449.8 1415.2 L453.2 1431.3 L447.5 1447.5 L442.9 1459.0 L456.7 1463.6 L475.1 1461.3 L491.2 1470.5 L482.0 1479.7 L484.3 1495.9 L495.9 1495.9 L500.5 1475.1 L500.5 1461.3 L514.3 1454.4 L530.4 1459.0 L535.0 1472.8 L521.2 1484.3 L507.4 1498.2 L493.5 1512.0 L484.3 1527.0 L465.9 1530.4 L449.8 1521.2 L459.0 1512.0 L447.5 1505.1 L435.9 1502.8 L424.4 1498.2 L412.9 1491.2 L415.2 1502.8 L401.4 1507.4 L394.5 1498.2 L392.2 1482.0 L385.3 1482.0 L384.1 1500.5 L371.4 1509.7 L364.5 1514.3 L387.6 1518.9 L403.7 1514.3 L412.9 1525.8 L401.4 1539.6 L387.6 1550.0 L369.1 1539.6 L346.1 1523.5 L334.6 1530.4 L313.8 1518.9 L298.8 1516.6 L298.8 1475.1 L339.2 1461.3 L355.3 1468.2 L358.1 1447.5 L347.2 1431.3 L349.5 1419.8 L361.1 1409.4 L369.1 1394.5 L357.6 1378.3 L350.2 1362.2Z" fill="#dcdcdc"/><path d="M488.9 1342.6 L507.4 1334.6 L530.4 1330.0 L548.8 1316.1 L576.5 1313.8 L599.5 1320.7 L585.7 1332.3 L583.4 1346.1 L594.9 1353.0 L578.8 1366.8 L569.6 1376.0 L565.0 1396.8 L558.1 1410.6 L551.2 1429.0 L535.0 1435.9 L528.1 1424.4 L521.2 1415.2 L502.8 1412.9 L493.5 1408.3 L479.7 1399.1 L461.3 1396.8 L449.8 1387.6 L454.4 1376.0 L468.2 1373.7 L482.0 1380.6 L493.5 1376.0 L491.2 1362.2 L484.3 1350.7Z" fill="#dcdcdc"/><path d="M553.5 1442.9 L562.7 1441.7 L585.7 1463.6 L553.5 1472.8 L551.2 1461.3Z" fill="#dcdcdc"/><path d="M588.0 1379.5 L597.2 1376.0 L608.8 1382.9 L599.5 1396.8 L597.2 1408.3 L591.5 1410.6 L588.0 1396.8Z" fill="#dcdcdc"/><path d="M643.3 1320.7 L652.5 1318.4 L658.3 1327.6 L652.5 1338.0 L644.5 1334.6Z" fill="#dcdcdc"/><path d="M638.7 1357.6 L645.6 1353.0 L654.8 1378.3 L645.6 1392.2 L638.7 1378.3Z" fill="#dcdcdc"/><path d="M668.7 1355.3 L677.9 1359.9 L689.4 1376.0 L691.7 1385.3 L680.2 1376.0 L668.7 1366.8Z" fill="#dcdcdc"/><path d="M738.3 1306.9 L739.5 1334.6 L731.4 1353.0 L729.1 1366.8 L738.3 1376.0 L752.2 1385.3 L768.3 1380.6 L772.9 1366.8 L777.5 1355.3 L789.0 1353.0 L798.2 1343.8 L802.9 1346.1 L791.3 1362.2 L798.2 1369.1 L816.7 1376.0 L830.5 1369.1 L837.4 1385.3 L851.2 1392.2 L862.8 1401.4 L872.0 1410.6 L885.8 1417.5 L899.6 1412.9 L908.8 1415.2 L920.4 1429.0 L948.0 1419.8 L952.6 1401.4 L959.5 1389.9 L978.0 1378.3 L1001.0 1382.9 L1019.4 1387.6 L1037.9 1388.7 L1063.2 1386.4 L1063.2 1306.9Z" fill="#dcdcdc"/><path d="M666.9 1353.0 L673.8 1357.6 L690.0 1364.5 L692.3 1380.6 L687.6 1385.3 L673.8 1373.7 L666.9 1364.5Z" fill="#dcdcdc"/><path d="M717.6 1404.8 L747.6 1399.1 L766.0 1403.7 L772.9 1415.2 L717.6 1416.4Z" fill="#dcdcdc"/><path d="M665.8 1412.9 L672.7 1414.1 L672.7 1425.6 L665.8 1424.4Z" fill="#dcdcdc"/><path d="M706.1 1456.7 L719.9 1453.2 L726.8 1465.9 L736.0 1479.7 L745.3 1491.2 L729.1 1498.2 L719.9 1505.1 L713.0 1491.2 L701.5 1470.5Z" fill="#dcdcdc"/><path d="M658.8 1479.7 L673.8 1482.0 L690.0 1486.6 L683.0 1498.2 L669.2 1507.4 L658.8 1512.0Z" fill="#dcdcdc"/><path d="M763.7 1502.3 L773.4 1502.8 L772.9 1507.8 L764.1 1507.4Z" fill="#dcdcdc"/><path d="M683.0 1512.0 L692.3 1513.1 L691.8 1521.7 L683.5 1520.7Z" fill="#dcdcdc"/><path d="M937.4 1430.5 L950.3 1401.5 L966.5 1382.1 L982.6 1378.9 L1014.8 1380.5 L1047.1 1385.3 L1079.4 1391.8 L1092.3 1414.4 L1124.5 1414.4 L1150.3 1395.0 L1163.2 1372.4 L1169.7 1356.3 L1189.0 1353.1 L1208.4 1375.6 L1222.9 1378.9 L1222.9 1304.7 L853.5 1304.7 L885.8 1391.8Z" fill="#dcdcdc"/><path d="M1222.9 1420.8 L1208.4 1430.5 L1203.5 1449.8 L1208.4 1469.2 L1222.9 1475.6Z" fill="#dcdcdc"/><path d="M1222.9 1527.3 L1214.8 1536.9 L1222.9 1546.6Z" fill="#dcdcdc"/><path d="M705.2 1924.4 L724.5 1914.7 L743.9 1908.2 L760.0 1911.5 L763.2 1921.1 L755.2 1930.8 L760.0 1940.5 L748.7 1948.5 L737.4 1942.1 L727.7 1945.3 L714.8 1935.6Z" fill="#dcdcdc"/><path d="M847.1 1969.5 L869.7 1966.3 L882.6 1976.0 L898.7 1980.8 L913.2 1990.5 L898.7 2001.8 L887.4 2017.9 L882.6 2008.2 L866.5 2008.2 L850.3 2003.4 L842.3 1993.7Z" fill="#dcdcdc"/><path d="M911.6 2064.7 L927.7 2055.0 L939.0 2056.6 L940.6 2066.3 L931.0 2071.1Z" fill="#dcdcdc"/><path d="M1545.2 1857.9 L1549.7 1855.6 L1552.9 1861.1 L1549.0 1865.3 L1545.2 1862.7Z" fill="#dcdcdc"/><path d="M1626.5 1867.6 L1639.4 1866.6 L1639.4 1872.4 L1626.5 1873.1Z" fill="#dcdcdc"/><path d="M1616.8 1878.9 L1639.4 1886.9 L1642.6 1898.2 L1632.9 1907.9 L1615.2 1907.9Z" fill="#dcdcdc"/><path d="M1447.4 1953.4 L1458.7 1956.6 L1474.8 1948.5 L1491.0 1941.1 L1507.1 1945.3 L1521.6 1955.0 L1537.7 1945.3 L1526.5 1924.4 L1524.8 1903.4 L1515.2 1903.4 L1511.9 1917.9 L1497.4 1921.1 L1481.3 1929.2 L1476.5 1937.3 L1465.2 1924.4 L1452.3 1940.5Z" fill="#dcdcdc"/><path d="M1502.3 1967.9 L1508.7 1963.7 L1512.9 1969.5 L1507.1 1974.4Z" fill="#dcdcdc"/><path d="M844.9 1971.9 L861.0 1967.3 L879.4 1968.4 L879.4 1980.0 L844.9 1980.0Z" fill="#dcdcdc"/><path d="M364.0 1512.3 L381.3 1505.3 L385.9 1493.8 L384.7 1480.0 L395.1 1480.0 L397.4 1493.8 L404.3 1503.0 L418.2 1498.4 L411.2 1491.5 L420.5 1492.7 L427.4 1496.1 L434.3 1486.9 L441.2 1493.8 L450.4 1503.0 L441.2 1510.0 L427.4 1505.3 L413.5 1510.0 L404.3 1514.6 L381.3 1519.2 L367.5 1515.7Z" fill="#a0e632"/><path d="M482.7 1478.8 L496.5 1478.8 L495.3 1495.0 L483.8 1495.0Z" fill="#a0e632"/><path d="M362.9 1480.0 L367.5 1480.0 L367.0 1489.2 L363.3 1488.8Z" fill="#a0e632"/><path d="M1211.9 1523.8 L1226.2 1523.8 L1226.2 1549.1 L1211.9 1549.1Z" fill="#a0e632"/><g stroke="#a0e632" stroke-width="7" stroke-linejoin="round"><path d="M361.3 1549.8 L367.7 1569.2 L380.6 1572.4 L364.5 1585.3 L351.6 1604.7 L325.8 1598.2 L309.7 1604.7 L306.5 1624.0 L293.5 1643.4 L280.6 1649.8 L274.2 1666.0 L258.1 1682.1 L248.4 1701.5 L261.3 1727.3 L251.6 1746.6 L250.0 1766.0 L261.3 1778.9 L274.2 1798.2 L264.5 1817.6 L267.7 1836.9 L261.3 1849.8 L280.6 1862.7 L287.1 1875.6 L306.5 1885.3 L325.8 1898.2 L332.3 1907.9 L567.7 1907.9 L575.3 1882.0 L589.1 1877.4 L598.3 1882.0 L616.8 1882.0 L635.2 1882.0 L646.7 1870.5 L658.2 1865.9 L667.5 1859.0 L679.0 1861.3 L679.0 1870.5 L690.5 1865.9 L702.0 1872.8 L711.2 1868.2 L722.8 1875.1 L741.2 1870.5 L759.6 1861.3 L773.5 1868.2 L796.5 1868.2 L805.7 1861.3 L808.0 1852.1 L798.8 1842.9 L789.6 1837.1 L780.4 1840.6 L778.1 1849.8 L759.6 1849.8 L741.2 1845.2 L729.7 1840.6 L720.5 1840.6 L708.9 1833.6 L702.0 1819.8 L692.8 1810.6 L695.1 1801.4 L704.3 1792.2 L704.3 1780.6 L715.9 1769.1 L713.5 1759.9 L702.0 1757.6 L690.5 1750.7 L679.0 1743.8 L679.0 1732.3 L690.5 1725.3 L702.0 1727.6 L713.5 1732.3 L722.8 1718.4 L725.1 1700.0 L662.9 1475.6 L622.6 1475.6 L603.2 1488.5 L590.3 1504.7 L577.4 1495.0 L558.1 1485.3 L535.5 1482.1 L522.6 1488.5 L516.1 1507.9 L493.5 1517.6 L474.2 1527.3 L454.8 1520.8 L448.4 1504.7 L422.6 1507.9 L406.5 1514.4 L409.7 1527.3 L422.6 1540.2 L435.5 1536.9 L441.9 1549.8 L438.7 1562.7 L422.6 1566.0 L412.9 1559.5 L400.0 1549.8 L374.2 1559.5Z" fill="#a0e632"/><path d="M345.2 1903.4 L354.8 1924.4 L348.4 1940.5 L364.5 1950.2 L374.2 1966.3 L393.5 1976.0 L396.8 1985.6 L390.3 2001.8 L400.0 2005.0 L406.5 1998.5 L412.9 2011.5 L422.6 1998.5 L435.5 2011.5 L454.8 2008.2 L471.0 2014.7 L493.5 2017.9 L503.2 2030.8 L506.5 2046.9 L529.0 2056.6 L538.7 2072.7 L551.6 2085.6 L567.7 2098.5 L583.9 2105.0 L593.5 2111.5 L585.5 2130.8 L590.3 2150.2 L600.0 2185.6 L611.3 2185.6 L609.7 2214.7 L622.6 2227.6 L641.9 2240.5 L654.8 2246.9 L662.9 2266.3 L662.9 2046.9 L648.4 2034.0 L641.9 2014.7 L622.6 2001.8 L609.7 1998.5 L616.1 1956.6 L609.7 1937.3 L583.9 1934.0 L571.0 1924.4 L567.7 1903.4Z" fill="#a0e632"/><path d="M656.8 2051.8 L679.4 2056.6 L689.0 2069.5 L711.6 2061.5 L731.0 2059.8 L756.8 2072.7 L782.6 2071.1 L801.9 2063.1 L821.3 2058.2 L834.2 2059.8 L843.9 2072.7 L827.7 2092.1 L824.5 2114.7 L840.6 2124.4 L860.0 2124.4 L879.4 2137.3 L889.0 2124.4 L898.7 2114.7 L911.6 2116.3 L918.1 2134.0 L934.2 2146.9 L940.6 2159.8 L937.4 2179.2 L927.7 2195.3 L927.7 2221.1 L914.8 2230.8 L898.7 2243.7 L885.8 2251.8 L869.7 2248.5 L861.6 2259.8 L872.9 2276.0 L877.7 2288.9 L872.9 2301.8 L853.5 2314.7 L837.4 2327.6 L821.3 2337.3 L801.9 2346.9 L785.8 2351.8 L772.9 2346.9 L771.3 2334.0 L750.3 2324.4 L747.1 2314.7 L751.9 2305.0 L734.2 2292.1 L718.1 2282.4 L711.6 2266.3 L692.3 2264.7 L656.8 2267.9Z" fill="#a0e632"/><path d="M1042.3 1903.4 L1064.8 1903.4 L1056.8 1911.5 L1047.1 1913.1Z" fill="#a0e632"/><path d="M656.8 1501.5 L692.3 1504.7 L724.5 1501.5 L756.8 1501.5 L789.0 1501.5 L821.3 1505.0 L830.6 1507.3 L832.9 1521.1 L844.2 1528.2 L858.1 1514.4 L871.9 1512.1 L890.3 1514.4 L913.5 1509.8 L936.5 1505.0 L957.1 1498.2 L971.0 1502.7 L980.3 1496.0 L982.6 1505.0 L1001.0 1502.7 L1019.4 1500.5 L1033.2 1493.7 L1031.0 1475.0 L1047.1 1466.0 L1066.5 1469.2 L1082.6 1482.1 L1085.8 1462.7 L1111.6 1446.6 L1137.4 1443.4 L1163.2 1446.6 L1156.8 1469.2 L1150.3 1495.0 L1163.2 1520.8 L1179.4 1540.2 L1184.2 1569.2 L1189.0 1601.5 L1192.3 1627.3 L1208.4 1649.8 L1205.2 1669.2 L1182.6 1685.3 L1201.9 1691.8 L1222.9 1698.2 L1222.9 1793.4 L1177.1 1817.6 L1156.5 1833.7 L1133.5 1849.8 L1110.3 1858.9 L1101.3 1875.0 L1087.4 1882.1 L1075.8 1893.4 L1064.2 1905.0 L1056.8 1907.9 L1040.6 1907.9 L1031.0 1891.8 L1014.8 1875.6 L998.7 1866.0 L969.7 1856.3 L956.8 1872.4 L943.9 1853.1 L947.1 1830.5 L934.2 1817.6 L914.8 1807.9 L895.5 1798.2 L885.8 1778.9 L876.1 1762.7 L853.5 1820.8 L656.8 1820.8Z" fill="#a0e632"/><path d="M1218.4 1698.2 L1239.4 1695.0 L1261.9 1698.2 L1284.5 1707.9 L1300.6 1720.8 L1291.0 1740.2 L1284.5 1756.3 L1261.9 1772.4 L1239.4 1782.1 L1218.4 1788.5Z" fill="#a0e632"/><path d="M373.7 1313.8 L392.2 1306.9 L475.1 1306.9 L470.5 1320.7 L461.3 1325.3 L447.5 1323.0 L429.0 1325.3 L415.2 1330.0 L410.6 1339.2 L419.8 1353.0 L429.0 1366.8 L438.2 1376.0 L447.5 1389.9 L452.1 1399.1 L461.3 1403.7 L475.1 1401.4 L493.5 1408.3 L507.4 1412.9 L521.2 1415.2 L528.1 1424.4 L532.7 1438.2 L544.2 1435.9 L546.5 1447.5 L539.6 1456.7 L523.5 1449.8 L507.4 1452.1 L498.2 1465.9 L488.9 1470.5 L475.1 1461.3 L461.3 1461.3 L449.8 1452.1 L454.4 1438.2 L449.8 1419.8 L447.5 1408.3 L435.9 1410.6 L429.0 1403.7 L424.4 1396.8 L417.5 1387.6 L408.3 1376.0 L399.1 1366.8 L392.2 1359.9 L396.8 1346.1 L382.9 1343.8 L362.2 1343.8 L373.7 1334.6Z" fill="#a0e632"/><path d="M378.3 1387.6 L392.2 1382.9 L415.2 1385.3 L419.8 1396.8 L426.7 1408.3 L424.4 1422.1 L410.6 1425.6 L396.8 1422.1 L387.6 1410.6 L378.3 1399.1Z" fill="#a0e632"/><path d="M493.5 1306.9 L544.2 1306.9 L546.5 1316.1 L530.4 1323.0 L507.4 1318.4Z" fill="#a0e632"/><path d="M592.6 1366.8 L606.5 1357.6 L622.6 1341.5 L618.0 1327.6 L627.2 1320.7 L638.7 1327.6 L641.0 1346.1 L634.1 1359.9 L627.2 1376.0 L618.0 1387.6 L608.8 1376.0 L599.5 1371.4Z" fill="#a0e632"/><path d="M668.7 1313.8 L680.2 1306.9 L703.2 1306.9 L703.2 1392.2 L689.4 1389.9 L677.9 1376.0 L668.7 1357.6 L666.4 1334.6Z" fill="#a0e632"/><path d="M565.0 1412.9 L571.9 1406.0 L577.6 1414.1 L571.9 1419.8Z" fill="#a0e632"/><path d="M566.1 1433.6 L571.9 1429.0 L576.5 1435.9 L571.9 1441.7Z" fill="#a0e632"/><path d="M527.0 1379.5 L532.7 1377.2 L540.8 1399.1 L530.4 1402.5 L522.4 1401.4Z" fill="#a0e632"/><path d="M510.8 1351.8 L517.7 1351.8 L514.3 1356.5Z" fill="#a0e632"/><path d="M518.9 1491.2 L530.4 1482.0 L546.5 1484.3 L560.4 1479.7 L571.9 1491.2 L583.4 1502.8 L597.2 1507.4 L606.5 1498.2 L599.5 1484.3 L590.3 1475.1 L594.9 1461.3 L608.8 1447.5 L599.5 1429.0 L590.3 1424.4 L597.2 1415.2 L611.1 1419.8 L631.8 1417.5 L645.6 1408.3 L654.8 1392.2 L668.7 1396.8 L677.9 1410.6 L682.5 1429.0 L673.3 1447.5 L682.5 1465.9 L691.7 1479.7 L703.2 1484.3 L703.2 1530.4 L507.4 1530.4 L498.2 1516.6 L507.4 1505.1Z" fill="#a0e632"/><path d="M664.6 1313.8 L683.0 1306.9 L733.7 1306.9 L739.5 1323.0 L733.7 1346.1 L719.9 1355.3 L713.0 1369.1 L708.4 1385.3 L701.5 1392.2 L692.3 1385.3 L690.0 1364.5 L678.4 1350.7 L669.2 1341.5Z" fill="#a0e632"/><path d="M669.2 1387.6 L687.6 1392.2 L708.4 1387.6 L710.7 1408.3 L706.1 1417.5 L690.0 1415.2 L669.2 1406.0Z" fill="#a0e632"/><path d="M768.3 1385.3 L784.4 1380.6 L807.5 1385.3 L821.3 1380.6 L830.5 1394.5 L842.0 1410.6 L839.7 1422.1 L828.2 1426.7 L816.7 1415.2 L809.8 1408.3 L802.9 1419.8 L793.6 1431.3 L779.8 1438.2 L777.5 1452.1 L768.3 1447.5 L761.4 1459.0 L756.8 1475.1 L747.6 1484.3 L740.6 1475.1 L742.9 1463.6 L752.2 1456.7 L747.6 1447.5 L736.0 1440.6 L726.8 1429.0 L742.9 1424.4 L766.0 1429.0 L775.2 1419.8 L775.2 1406.0 L779.8 1396.8 L770.6 1394.5Z" fill="#a0e632"/><path d="M658.8 1435.9 L673.8 1429.0 L690.0 1438.2 L683.0 1452.1 L690.0 1459.0 L678.4 1475.1 L664.6 1470.5 L658.8 1461.3Z" fill="#a0e632"/><path d="M694.6 1488.9 L706.1 1484.3 L715.3 1500.5 L710.7 1512.0 L696.9 1507.4 L690.0 1500.5Z" fill="#a0e632"/><path d="M819.0 1488.9 L828.2 1484.3 L836.3 1492.4 L825.9 1500.5 L819.0 1495.9Z" fill="#a0e632"/><path d="M839.7 1494.7 L857.0 1493.5 L858.2 1502.8 L844.3 1502.8Z" fill="#a0e632"/><path d="M779.8 1313.8 L789.0 1309.2 L798.2 1316.1 L789.0 1324.2Z" fill="#a0e632"/><path d="M658.8 1514.3 L673.8 1507.4 L687.6 1521.2 L706.1 1516.6 L724.5 1507.4 L740.6 1512.0 L756.8 1507.4 L775.2 1505.1 L798.2 1507.4 L821.3 1505.1 L832.8 1521.2 L821.3 1530.4 L821.3 1581.1 L658.8 1581.1Z" fill="#a0e632"/><path d="M1558.7 2027.6 L1578.1 2009.8 L1597.4 2008.2 L1600.6 2017.9 L1597.4 2030.8 L1587.7 2037.3 L1584.5 2046.9 L1576.5 2045.3 L1574.8 2059.8 L1568.4 2066.3 L1566.8 2080.8 L1561.9 2066.3 L1560.3 2051.8 L1552.3 2056.6 L1539.4 2077.6 L1526.5 2072.7 L1521.6 2059.8 L1531.3 2051.8 L1545.8 2043.7Z" fill="#a0e632"/><path d="M1457.1 2003.4 L1465.2 2005.0 L1468.4 2009.8 L1461.9 2019.5 L1455.5 2013.1Z" fill="#a0e632"/><path d="M1494.2 2019.5 L1500.6 2017.9 L1502.3 2029.2 L1495.8 2032.4 L1491.9 2026.0Z" fill="#a0e632"/><path d="M233.9 1795.0 L241.9 1793.4 L246.8 1801.5 L241.9 1806.3 L233.9 1803.1Z" fill="#a0e632"/><path d="M865.6 1720.7 L877.1 1711.5 L882.9 1718.4 L877.1 1726.5Z" fill="#a0e632"/><path d="M894.4 1891.2 L907.1 1872.8 L922.1 1875.1 L922.1 1884.3 L900.2 1893.5Z" fill="#a0e632"/></g><path d="M361.3 1549.8 L367.7 1569.2 L380.6 1572.4 L364.5 1585.3 L351.6 1604.7 L325.8 1598.2 L309.7 1604.7 L306.5 1624.0 L293.5 1643.4 L280.6 1649.8 L274.2 1666.0 L258.1 1682.1 L248.4 1701.5 L261.3 1727.3 L251.6 1746.6 L250.0 1766.0 L261.3 1778.9 L274.2 1798.2 L264.5 1817.6 L267.7 1836.9 L261.3 1849.8 L280.6 1862.7 L287.1 1875.6 L306.5 1885.3 L325.8 1898.2 L332.3 1907.9 L567.7 1907.9 L575.3 1882.0 L589.1 1877.4 L598.3 1882.0 L616.8 1882.0 L635.2 1882.0 L646.7 1870.5 L658.2 1865.9 L667.5 1859.0 L679.0 1861.3 L679.0 1870.5 L690.5 1865.9 L702.0 1872.8 L711.2 1868.2 L722.8 1875.1 L741.2 1870.5 L759.6 1861.3 L773.5 1868.2 L796.5 1868.2 L805.7 1861.3 L808.0 1852.1 L798.8 1842.9 L789.6 1837.1 L780.4 1840.6 L778.1 1849.8 L759.6 1849.8 L741.2 1845.2 L729.7 1840.6 L720.5 1840.6 L708.9 1833.6 L702.0 1819.8 L692.8 1810.6 L695.1 1801.4 L704.3 1792.2 L704.3 1780.6 L715.9 1769.1 L713.5 1759.9 L702.0 1757.6 L690.5 1750.7 L679.0 1743.8 L679.0 1732.3 L690.5 1725.3 L702.0 1727.6 L713.5 1732.3 L722.8 1718.4 L725.1 1700.0 L662.9 1475.6 L622.6 1475.6 L603.2 1488.5 L590.3 1504.7 L577.4 1495.0 L558.1 1485.3 L535.5 1482.1 L522.6 1488.5 L516.1 1507.9 L493.5 1517.6 L474.2 1527.3 L454.8 1520.8 L448.4 1504.7 L422.6 1507.9 L406.5 1514.4 L409.7 1527.3 L422.6 1540.2 L435.5 1536.9 L441.9 1549.8 L438.7 1562.7 L422.6 1566.0 L412.9 1559.5 L400.0 1549.8 L374.2 1559.5Z" fill="#00dc00"/><path d="M345.2 1903.4 L354.8 1924.4 L348.4 1940.5 L364.5 1950.2 L374.2 1966.3 L393.5 1976.0 L396.8 1985.6 L390.3 2001.8 L400.0 2005.0 L406.5 1998.5 L412.9 2011.5 L422.6 1998.5 L435.5 2011.5 L454.8 2008.2 L471.0 2014.7 L493.5 2017.9 L503.2 2030.8 L506.5 2046.9 L529.0 2056.6 L538.7 2072.7 L551.6 2085.6 L567.7 2098.5 L583.9 2105.0 L593.5 2111.5 L585.5 2130.8 L590.3 2150.2 L600.0 2185.6 L611.3 2185.6 L609.7 2214.7 L622.6 2227.6 L641.9 2240.5 L654.8 2246.9 L662.9 2266.3 L662.9 2046.9 L648.4 2034.0 L641.9 2014.7 L622.6 2001.8 L609.7 1998.5 L616.1 1956.6 L609.7 1937.3 L583.9 1934.0 L571.0 1924.4 L567.7 1903.4Z" fill="#00dc00"/><path d="M656.8 2051.8 L679.4 2056.6 L689.0 2069.5 L711.6 2061.5 L731.0 2059.8 L756.8 2072.7 L782.6 2071.1 L801.9 2063.1 L821.3 2058.2 L834.2 2059.8 L843.9 2072.7 L827.7 2092.1 L824.5 2114.7 L840.6 2124.4 L860.0 2124.4 L879.4 2137.3 L889.0 2124.4 L898.7 2114.7 L911.6 2116.3 L918.1 2134.0 L934.2 2146.9 L940.6 2159.8 L937.4 2179.2 L927.7 2195.3 L927.7 2221.1 L914.8 2230.8 L898.7 2243.7 L885.8 2251.8 L869.7 2248.5 L861.6 2259.8 L872.9 2276.0 L877.7 2288.9 L872.9 2301.8 L853.5 2314.7 L837.4 2327.6 L821.3 2337.3 L801.9 2346.9 L785.8 2351.8 L772.9 2346.9 L771.3 2334.0 L750.3 2324.4 L747.1 2314.7 L751.9 2305.0 L734.2 2292.1 L718.1 2282.4 L711.6 2266.3 L692.3 2264.7 L656.8 2267.9Z" fill="#00dc00"/><path d="M1042.3 1903.4 L1064.8 1903.4 L1056.8 1911.5 L1047.1 1913.1Z" fill="#00dc00"/><path d="M656.8 1501.5 L692.3 1504.7 L724.5 1501.5 L756.8 1501.5 L789.0 1501.5 L821.3 1505.0 L830.6 1507.3 L832.9 1521.1 L844.2 1528.2 L858.1 1514.4 L871.9 1512.1 L890.3 1514.4 L913.5 1509.8 L936.5 1505.0 L957.1 1498.2 L971.0 1502.7 L980.3 1496.0 L982.6 1505.0 L1001.0 1502.7 L1019.4 1500.5 L1033.2 1493.7 L1031.0 1475.0 L1047.1 1466.0 L1066.5 1469.2 L1082.6 1482.1 L1085.8 1462.7 L1111.6 1446.6 L1137.4 1443.4 L1163.2 1446.6 L1156.8 1469.2 L1150.3 1495.0 L1163.2 1520.8 L1179.4 1540.2 L1184.2 1569.2 L1189.0 1601.5 L1192.3 1627.3 L1208.4 1649.8 L1205.2 1669.2 L1182.6 1685.3 L1201.9 1691.8 L1222.9 1698.2 L1222.9 1793.4 L1177.1 1817.6 L1156.5 1833.7 L1133.5 1849.8 L1110.3 1858.9 L1101.3 1875.0 L1087.4 1882.1 L1075.8 1893.4 L1064.2 1905.0 L1056.8 1907.9 L1040.6 1907.9 L1031.0 1891.8 L1014.8 1875.6 L998.7 1866.0 L969.7 1856.3 L956.8 1872.4 L943.9 1853.1 L947.1 1830.5 L934.2 1817.6 L914.8 1807.9 L895.5 1798.2 L885.8 1778.9 L876.1 1762.7 L853.5 1820.8 L656.8 1820.8Z" fill="#00dc00"/><path d="M1218.4 1698.2 L1239.4 1695.0 L1261.9 1698.2 L1284.5 1707.9 L1300.6 1720.8 L1291.0 1740.2 L1284.5 1756.3 L1261.9 1772.4 L1239.4 1782.1 L1218.4 1788.5Z" fill="#00dc00"/><path d="M373.7 1313.8 L392.2 1306.9 L475.1 1306.9 L470.5 1320.7 L461.3 1325.3 L447.5 1323.0 L429.0 1325.3 L415.2 1330.0 L410.6 1339.2 L419.8 1353.0 L429.0 1366.8 L438.2 1376.0 L447.5 1389.9 L452.1 1399.1 L461.3 1403.7 L475.1 1401.4 L493.5 1408.3 L507.4 1412.9 L521.2 1415.2 L528.1 1424.4 L532.7 1438.2 L544.2 1435.9 L546.5 1447.5 L539.6 1456.7 L523.5 1449.8 L507.4 1452.1 L498.2 1465.9 L488.9 1470.5 L475.1 1461.3 L461.3 1461.3 L449.8 1452.1 L454.4 1438.2 L449.8 1419.8 L447.5 1408.3 L435.9 1410.6 L429.0 1403.7 L424.4 1396.8 L417.5 1387.6 L408.3 1376.0 L399.1 1366.8 L392.2 1359.9 L396.8 1346.1 L382.9 1343.8 L362.2 1343.8 L373.7 1334.6Z" fill="#00dc00"/><path d="M378.3 1387.6 L392.2 1382.9 L415.2 1385.3 L419.8 1396.8 L426.7 1408.3 L424.4 1422.1 L410.6 1425.6 L396.8 1422.1 L387.6 1410.6 L378.3 1399.1Z" fill="#00dc00"/><path d="M493.5 1306.9 L544.2 1306.9 L546.5 1316.1 L530.4 1323.0 L507.4 1318.4Z" fill="#00dc00"/><path d="M592.6 1366.8 L606.5 1357.6 L622.6 1341.5 L618.0 1327.6 L627.2 1320.7 L638.7 1327.6 L641.0 1346.1 L634.1 1359.9 L627.2 1376.0 L618.0 1387.6 L608.8 1376.0 L599.5 1371.4Z" fill="#00dc00"/><path d="M668.7 1313.8 L680.2 1306.9 L703.2 1306.9 L703.2 1392.2 L689.4 1389.9 L677.9 1376.0 L668.7 1357.6 L666.4 1334.6Z" fill="#00dc00"/><path d="M565.0 1412.9 L571.9 1406.0 L577.6 1414.1 L571.9 1419.8Z" fill="#00dc00"/><path d="M566.1 1433.6 L571.9 1429.0 L576.5 1435.9 L571.9 1441.7Z" fill="#00dc00"/><path d="M527.0 1379.5 L532.7 1377.2 L540.8 1399.1 L530.4 1402.5 L522.4 1401.4Z" fill="#00dc00"/><path d="M510.8 1351.8 L517.7 1351.8 L514.3 1356.5Z" fill="#00dc00"/><path d="M518.9 1491.2 L530.4 1482.0 L546.5 1484.3 L560.4 1479.7 L571.9 1491.2 L583.4 1502.8 L597.2 1507.4 L606.5 1498.2 L599.5 1484.3 L590.3 1475.1 L594.9 1461.3 L608.8 1447.5 L599.5 1429.0 L590.3 1424.4 L597.2 1415.2 L611.1 1419.8 L631.8 1417.5 L645.6 1408.3 L654.8 1392.2 L668.7 1396.8 L677.9 1410.6 L682.5 1429.0 L673.3 1447.5 L682.5 1465.9 L691.7 1479.7 L703.2 1484.3 L703.2 1530.4 L507.4 1530.4 L498.2 1516.6 L507.4 1505.1Z" fill="#00dc00"/><path d="M664.6 1313.8 L683.0 1306.9 L733.7 1306.9 L739.5 1323.0 L733.7 1346.1 L719.9 1355.3 L713.0 1369.1 L708.4 1385.3 L701.5 1392.2 L692.3 1385.3 L690.0 1364.5 L678.4 1350.7 L669.2 1341.5Z" fill="#00dc00"/><path d="M669.2 1387.6 L687.6 1392.2 L708.4 1387.6 L710.7 1408.3 L706.1 1417.5 L690.0 1415.2 L669.2 1406.0Z" fill="#00dc00"/><path d="M768.3 1385.3 L784.4 1380.6 L807.5 1385.3 L821.3 1380.6 L830.5 1394.5 L842.0 1410.6 L839.7 1422.1 L828.2 1426.7 L816.7 1415.2 L809.8 1408.3 L802.9 1419.8 L793.6 1431.3 L779.8 1438.2 L777.5 1452.1 L768.3 1447.5 L761.4 1459.0 L756.8 1475.1 L747.6 1484.3 L740.6 1475.1 L742.9 1463.6 L752.2 1456.7 L747.6 1447.5 L736.0 1440.6 L726.8 1429.0 L742.9 1424.4 L766.0 1429.0 L775.2 1419.8 L775.2 1406.0 L779.8 1396.8 L770.6 1394.5Z" fill="#00dc00"/><path d="M658.8 1435.9 L673.8 1429.0 L690.0 1438.2 L683.0 1452.1 L690.0 1459.0 L678.4 1475.1 L664.6 1470.5 L658.8 1461.3Z" fill="#00dc00"/><path d="M694.6 1488.9 L706.1 1484.3 L715.3 1500.5 L710.7 1512.0 L696.9 1507.4 L690.0 1500.5Z" fill="#00dc00"/><path d="M819.0 1488.9 L828.2 1484.3 L836.3 1492.4 L825.9 1500.5 L819.0 1495.9Z" fill="#00dc00"/><path d="M839.7 1494.7 L857.0 1493.5 L858.2 1502.8 L844.3 1502.8Z" fill="#00dc00"/><path d="M779.8 1313.8 L789.0 1309.2 L798.2 1316.1 L789.0 1324.2Z" fill="#00dc00"/><path d="M658.8 1514.3 L673.8 1507.4 L687.6 1521.2 L706.1 1516.6 L724.5 1507.4 L740.6 1512.0 L756.8 1507.4 L775.2 1505.1 L798.2 1507.4 L821.3 1505.1 L832.8 1521.2 L821.3 1530.4 L821.3 1581.1 L658.8 1581.1Z" fill="#00dc00"/><path d="M1558.7 2027.6 L1578.1 2009.8 L1597.4 2008.2 L1600.6 2017.9 L1597.4 2030.8 L1587.7 2037.3 L1584.5 2046.9 L1576.5 2045.3 L1574.8 2059.8 L1568.4 2066.3 L1566.8 2080.8 L1561.9 2066.3 L1560.3 2051.8 L1552.3 2056.6 L1539.4 2077.6 L1526.5 2072.7 L1521.6 2059.8 L1531.3 2051.8 L1545.8 2043.7Z" fill="#00dc00"/><path d="M1457.1 2003.4 L1465.2 2005.0 L1468.4 2009.8 L1461.9 2019.5 L1455.5 2013.1Z" fill="#00dc00"/><path d="M1494.2 2019.5 L1500.6 2017.9 L1502.3 2029.2 L1495.8 2032.4 L1491.9 2026.0Z" fill="#00dc00"/><path d="M233.9 1795.0 L241.9 1793.4 L246.8 1801.5 L241.9 1806.3 L233.9 1803.1Z" fill="#00dc00"/><path d="M865.6 1720.7 L877.1 1711.5 L882.9 1718.4 L877.1 1726.5Z" fill="#00dc00"/><path d="M894.4 1891.2 L907.1 1872.8 L922.1 1875.1 L922.1 1884.3 L900.2 1893.5Z" fill="#00dc00"/><path d="M699.2 1669.0 L717.6 1659.8 L740.6 1669.0 L766.0 1672.5 L789.0 1673.6 L807.5 1664.4 L830.5 1665.6 L848.9 1666.7 L855.9 1655.2 L869.7 1644.8 L881.2 1648.3 L883.5 1664.4 L881.2 1678.2 L895.0 1678.2 L906.5 1669.0 L925.0 1659.8 L938.8 1658.7 L942.3 1669.0 L934.2 1687.5 L925.0 1705.9 L920.4 1719.7 L929.6 1731.2 L936.5 1740.5 L925.0 1747.4 L908.8 1754.3 L890.4 1752.0 L874.3 1761.2 L876.6 1779.6 L890.4 1793.5 L897.3 1807.3 L904.2 1823.4 L694.6 1823.4 L692.3 1807.3 L703.8 1793.5 L701.5 1777.3 L715.3 1765.8 L713.0 1756.6 L696.9 1752.0 L683.0 1742.8 L677.3 1733.5 L687.6 1724.3 L701.5 1731.2 L715.3 1733.5 L722.2 1719.7 L724.5 1701.3 L719.9 1692.1 L699.2 1687.5 L692.3 1678.2Z" fill="#a0e632"/><path d="M816.7 1599.9 L830.5 1597.6 L837.4 1606.8 L842.0 1616.0 L855.9 1622.9 L851.2 1632.2 L839.7 1634.5 L832.8 1625.3 L830.5 1613.7 L821.3 1606.8Z" fill="#a0e632"/><path d="M795.9 1586.1 L807.5 1579.2 L821.3 1574.6 L837.4 1576.9 L844.3 1583.8 L835.1 1593.0 L816.7 1593.0 L798.2 1594.1Z" fill="#a0e632"/><path d="M867.4 1558.4 L881.2 1549.2 L890.4 1558.4 L908.8 1549.2 L936.5 1567.6 L938.8 1581.5 L922.7 1590.7 L918.1 1606.8 L908.8 1613.7 L895.0 1606.8 L885.8 1599.9 L897.3 1586.1 L890.4 1570.0 L878.9 1572.3 L867.4 1579.2Z" fill="#a0e632"/><path d="M1012.5 1538.8 L1028.7 1546.9 L1019.4 1560.7 L1012.5 1586.1 L1005.6 1609.1 L994.1 1620.6 L991.8 1643.7 L978.0 1650.6 L964.1 1652.9 L957.2 1641.4 L966.5 1629.9 L964.1 1609.1 L973.4 1586.1 L987.2 1574.6 L1001.0 1563.0Z" fill="#a0e632"/><path d="M722.2 1553.8 L736.0 1551.5 L747.6 1560.7 L761.4 1558.4 L759.1 1570.0 L749.9 1581.5 L738.3 1579.2 L724.5 1570.0Z" fill="#a0e632"/><path d="M673.8 1650.6 L699.2 1628.7 L717.6 1612.6 L738.3 1605.7 L761.4 1609.1 L752.2 1622.9 L740.6 1632.2 L749.9 1648.3 L756.8 1665.6 L736.0 1663.3 L724.5 1647.1 L715.3 1642.5 L696.9 1661.0 L678.4 1665.6Z" fill="#a0e632"/><path d="M692.3 1674.8 L725.7 1673.6 L726.8 1687.5 L694.6 1688.6Z" fill="#a0e632"/><path d="M984.9 1820.0 L989.5 1809.6 L1014.8 1805.0 L1017.1 1814.2 L1012.5 1823.4 L984.9 1823.4Z" fill="#a0e632"/><path d="M985.8 1807.9 L1008.4 1804.7 L1018.1 1807.9 L1011.6 1824.0 L998.7 1833.7 L989.0 1824.0Z" fill="#a0e632"/><path d="M1082.6 1830.5 L1086.5 1831.1 L1085.8 1843.4 L1081.9 1842.7Z" fill="#a0e632"/><path d="M1051.9 1846.6 L1056.8 1847.3 L1056.1 1856.3 L1051.6 1855.6Z" fill="#a0e632"/><path d="M1061.6 1859.5 L1066.5 1860.2 L1065.8 1872.4 L1061.3 1871.8Z" fill="#a0e632"/><path d="M609.7 1756.3 L629.0 1762.7 L638.7 1772.4 L629.0 1778.9 L609.7 1775.6 L604.8 1766.0Z" fill="#a0e632"/><path d="M606.5 1804.7 L622.6 1798.2 L648.4 1811.1 L645.2 1836.9 L635.5 1849.8 L622.6 1843.4 L603.2 1827.3 L598.4 1814.4Z" fill="#a0e632"/><path d="M414.5 1541.8 L433.9 1535.3 L443.5 1553.1 L435.5 1567.6 L417.7 1563.4Z" fill="#a0e632"/><path d="M529.0 1934.0 L545.2 1930.8 L558.1 1937.3 L551.6 1950.2 L532.3 1942.1Z" fill="#a0e632"/><path d="M566.1 1988.9 L580.6 1980.8 L595.2 1987.3 L590.3 1998.5 L574.2 1993.7Z" fill="#a0e632"/><path d="M550.0 2048.5 L564.5 2046.9 L577.4 2055.0 L585.5 2064.7 L580.6 2069.5 L567.7 2056.6 L551.6 2051.8Z" fill="#a0e632"/><path d="M619.4 2046.9 L629.0 2046.9 L622.6 2051.8Z" fill="#a0e632"/><path d="M834.2 2251.8 L847.1 2245.3 L848.7 2253.4 L840.6 2267.9 L832.6 2259.8Z" fill="#a0e632"/><path d="M701.5 1516.6 L719.9 1507.4 L736.0 1514.3 L729.1 1525.8 L738.3 1539.6 L729.1 1553.5 L715.3 1544.2 L706.1 1530.4Z" fill="#a0e632"/><path d="M756.8 1553.5 L768.3 1551.2 L770.6 1565.0 L761.4 1580.0 L747.6 1580.0 L752.2 1565.0Z" fill="#a0e632"/><path d="M835.1 1571.9 L851.2 1560.4 L867.4 1562.7 L881.2 1569.6 L888.1 1580.0 L830.5 1580.0Z" fill="#a0e632"/><path d="M918.1 1548.8 L936.5 1544.2 L943.4 1553.5 L943.4 1580.0 L931.9 1580.0 L925.0 1565.0Z" fill="#a0e632"/><path d="M1012.5 1530.4 L1026.4 1528.1 L1028.7 1544.2 L1019.4 1558.1 L1010.2 1548.8Z" fill="#a0e632"/><path d="M607.6 1757.6 L619.1 1756.5 L632.9 1762.2 L637.5 1769.1 L630.6 1776.0 L616.8 1773.7 L607.6 1769.1Z" fill="#a0e632"/><path d="M600.6 1806.0 L612.2 1799.1 L630.6 1803.7 L649.0 1808.3 L652.5 1819.8 L646.7 1835.9 L642.1 1845.2 L630.6 1847.5 L623.7 1833.6 L607.6 1829.0 L598.3 1819.8Z" fill="#a0e632"/><path d="M526.9 1935.0 L536.1 1929.3 L550.0 1931.6 L558.0 1939.6 L552.3 1950.0 L538.4 1944.2Z" fill="#a0e632"/><path d="M1071.3 1609.0 L1078.2 1627.5 L1082.9 1645.9 L1087.5 1664.3 L1096.7 1678.2 L1110.5 1685.1 L1118.6 1678.2 L1115.1 1664.3 L1108.2 1650.5 L1101.3 1648.2 L1099.0 1641.3 L1087.5 1639.0 L1078.2 1618.2Z" fill="#a0e632"/><g stroke="#a0e632" stroke-width="6" stroke-linejoin="round" paint-order="stroke"><path d="M608.8 1406.0 L622.6 1399.1 L634.1 1401.4 L641.0 1406.0 L631.8 1415.2 L613.4 1417.5Z" fill="#dcdcdc"/><path d="M666.4 1412.9 L672.1 1411.8 L673.3 1424.4 L667.5 1425.6Z" fill="#dcdcdc"/><path d="M624.9 1482.0 L645.6 1477.4 L668.7 1479.7 L680.2 1488.9 L691.7 1482.0 L691.7 1495.9 L680.2 1507.4 L659.4 1507.4 L636.4 1505.1 L627.2 1495.9Z" fill="#dcdcdc"/><path d="M578.8 1491.2 L590.3 1487.8 L594.9 1495.9 L588.0 1502.8Z" fill="#dcdcdc"/><path d="M419.8 1544.2 L429.0 1541.9 L435.9 1551.2 L432.5 1560.4 L422.1 1559.2Z" fill="#dcdcdc"/><path d="M517.7 1510.8 L524.7 1509.7 L525.8 1516.6 L518.9 1517.7Z" fill="#dcdcdc"/><path d="M429.0 1500.5 L437.1 1500.5 L437.1 1506.2 L429.0 1506.2Z" fill="#dcdcdc"/><path d="M678.4 1652.9 L701.5 1632.2 L717.6 1616.0 L736.0 1609.1 L756.8 1611.4 L747.6 1622.9 L736.0 1632.2 L745.3 1648.3 L752.2 1662.1 L738.3 1659.8 L726.8 1643.7 L715.3 1639.1 L694.6 1657.5 L680.7 1662.1Z" fill="#dcdcdc"/><path d="M696.9 1678.2 L722.2 1677.1 L723.4 1684.0 L698.0 1685.2Z" fill="#dcdcdc"/><path d="M816.7 1578.0 L832.8 1578.0 L834.0 1584.9 L817.8 1585.6Z" fill="#dcdcdc"/><path d="M419.4 1546.6 L432.3 1540.2 L438.7 1553.1 L432.3 1562.7 L421.0 1559.5Z" fill="#dcdcdc"/><path d="M687.6 1735.9 L693.4 1734.7 L694.6 1742.8 L688.8 1742.8Z" fill="#dcdcdc"/><path d="M688.2 1736.9 L692.8 1736.4 L693.3 1741.5 L688.7 1741.9Z" fill="#dcdcdc"/><path d="M697.9 1747.9 L701.6 1747.9 L701.6 1751.6 L697.9 1751.6Z" fill="#dcdcdc"/><path d="M699.7 1866.4 L703.9 1870.5 L699.7 1874.7 L695.6 1870.5Z" fill="#dcdcdc"/></g><path d="M467.7 1553.1 L475.8 1549.8 L477.4 1562.7 L493.5 1569.2 L506.5 1562.7 L512.9 1572.4 L522.6 1562.7 L525.8 1553.1 L535.5 1553.1 L540.3 1566.0 L538.7 1585.3 L551.6 1595.0 L554.8 1614.4 L564.5 1627.3 L572.6 1646.6 L571.0 1662.7 L575.8 1675.6 L574.2 1695.0 L561.3 1707.9 L551.6 1720.8 L541.9 1730.5 L529.0 1724.0 L509.7 1727.3 L487.1 1736.9 L454.8 1741.8 L435.5 1745.0 L422.6 1736.9 L409.7 1730.5 L390.3 1740.2 L367.7 1741.8 L351.6 1736.9 L345.2 1724.0 L348.4 1711.1 L335.5 1704.7 L321.0 1691.8 L332.3 1682.1 L341.9 1666.0 L345.2 1653.1 L364.5 1643.4 L383.9 1630.5 L403.2 1630.5 L416.1 1611.1 L425.8 1591.8 L435.5 1580.5 L454.8 1578.9 L464.5 1569.2Z" fill="#00a0ff"/><path d="M403.2 1411.1 L416.1 1412.7 L414.5 1424.0 L404.8 1422.4Z" fill="#00a0ff"/><path d="M619.4 1599.8 L632.3 1586.9 L645.2 1588.5 L641.9 1604.7 L629.0 1614.4 L619.4 1611.1Z" fill="#00a0ff"/><path d="M532.3 1498.2 L541.9 1499.8 L540.3 1504.7 L532.9 1503.1Z" fill="#00a0ff"/><path d="M572.6 1509.5 L582.3 1514.4 L583.9 1525.6 L575.8 1522.4Z" fill="#00a0ff"/><path d="M400.6 1393.4 L404.8 1393.4 L404.8 1398.2 L400.6 1398.2Z" fill="#00a0ff"/><path d="M1051.9 1577.3 L1056.1 1575.6 L1058.4 1586.9 L1056.1 1598.2 L1051.9 1595.0Z" fill="#00a0ff"/><path d="M1121.3 1562.7 L1126.1 1564.4 L1126.8 1573.1 L1121.9 1574.0Z" fill="#00a0ff"/><path d="M1053.5 1704.7 L1057.4 1705.3 L1057.4 1714.4 L1053.5 1713.7Z" fill="#00a0ff"/><path d="M1063.2 1720.8 L1079.4 1704.7 L1090.6 1706.3 L1092.3 1720.8 L1079.4 1733.7 L1066.5 1733.7Z" fill="#00a0ff"/><path d="M1111.6 1740.2 L1114.8 1740.2 L1114.8 1746.6 L1111.6 1746.6Z" fill="#00a0ff"/><path d="M1127.7 1749.8 L1143.9 1740.2 L1156.8 1724.0 L1169.7 1717.6 L1192.3 1717.6 L1222.9 1722.4 L1222.9 1788.5 L1201.9 1798.2 L1176.1 1806.3 L1156.8 1811.1 L1137.4 1791.8 L1131.0 1769.2Z" fill="#00a0ff"/><path d="M1218.4 1722.4 L1232.9 1724.0 L1242.6 1730.5 L1252.3 1746.6 L1261.9 1761.1 L1249.0 1775.6 L1232.9 1783.7 L1218.4 1786.9Z" fill="#00a0ff"/><path d="M656.8 2188.2 L676.1 2159.8 L692.3 2150.2 L718.1 2155.0 L739.0 2143.7 L760.0 2156.6 L769.7 2176.0 L756.8 2185.6 L737.4 2195.3 L719.7 2208.2 L711.6 2195.3 L701.9 2214.7 L679.4 2214.7 L656.8 2220.5Z" fill="#00a0ff"/><path d="M648.4 2198.5 L662.9 2187.3 L662.9 2221.1Z" fill="#00a0ff"/><path d="M469.4 1599.8 L491.9 1598.2 L483.9 1609.5 L472.6 1612.7Z" fill="#00dc00"/><path d="M490.3 1707.9 L503.2 1703.1 L504.8 1712.7 L495.2 1714.4Z" fill="#00dc00"/><path d="M537.1 1699.8 L546.8 1698.2 L545.2 1706.3Z" fill="#00dc00"/><path d="M351.6 1700.2 L356.5 1700.8 L355.5 1704.7 L351.6 1704.0Z" fill="#00dc00"/><path d="M866.2 1722.0 L876.6 1711.7 L882.4 1719.7 L876.6 1726.6Z" fill="#00dc00"/><path d="M738.3 1772.7 L761.4 1768.1 L784.4 1770.4 L798.2 1772.7 L802.9 1784.2 L795.9 1800.4 L784.4 1811.9 L770.6 1816.5 L752.2 1816.5 L729.1 1807.3 L717.6 1798.1 L726.8 1784.2Z" fill="#00dc00"/><path d="M424.2 2288.9 L433.9 2295.3 L436.1 2308.2 L429.0 2311.5 L422.6 2306.6Z" fill="#e6dc32"/><path d="M453.2 2343.7 L483.9 2337.3 L498.4 2345.3 L504.8 2366.3 L501.6 2382.4 L491.9 2395.3 L496.8 2408.2 L491.9 2434.0 L483.9 2455.0 L471.0 2448.5 L474.2 2427.6 L477.4 2408.2 L467.7 2388.9 L458.1 2372.7 L454.8 2356.6Z" fill="#e6dc32"/><path fill-rule="evenodd" fill="#dcdcdc" d="M100 1290 H1800 V2510 H100 Z M198.3 1290.0 L198.3 1307.7 L199.9 1314.8 L203.2 1323.8 L201.6 1329.2 L206.4 1338.8 L209.6 1346.8 L216.1 1361.2 L224.2 1375.7 L230.7 1391.7 L237.1 1407.7 L245.2 1425.3 L251.7 1438.1 L252.7 1449.4 L245.2 1454.2 L237.1 1462.2 L237.1 1468.6 L243.0 1479.8 L245.2 1491.0 L251.7 1505.4 L259.8 1519.8 L266.9 1532.7 L269.5 1543.9 L267.9 1561.5 L266.2 1577.5 L259.8 1593.5 L250.1 1604.7 L242.0 1607.0 L233.9 1614.4 L233.3 1620.8 L219.3 1633.6 L216.1 1641.6 L217.1 1654.4 L211.3 1664.0 L210.6 1680.0 L204.8 1696.1 L199.9 1712.1 L195.1 1728.1 L187.0 1731.9 L185.4 1737.7 L188.6 1750.5 L189.3 1763.3 L188.0 1774.6 L185.4 1789.0 L184.7 1805.0 L187.0 1821.0 L193.5 1833.8 L201.6 1843.4 L211.3 1851.5 L219.3 1865.9 L227.4 1880.3 L237.1 1897.9 L238.8 1904.6 L243.6 1914.3 L250.1 1931.9 L263.0 1951.1 L275.9 1971.9 L288.9 1986.3 L295.3 1999.2 L296.3 2012.0 L291.5 2016.8 L293.7 2032.8 L293.7 2052.0 L295.3 2068.0 L301.8 2082.5 L308.3 2096.9 L309.9 2116.1 L314.7 2138.5 L319.6 2157.8 L318.0 2167.4 L324.5 2183.4 L334.2 2201.0 L345.5 2217.0 L363.3 2231.4 L374.6 2239.5 L385.9 2257.1 L394.0 2276.3 L400.5 2295.5 L408.5 2314.7 L421.5 2334.0 L434.4 2351.6 L444.1 2366.0 L447.3 2382.0 L444.1 2399.7 L434.4 2404.5 L429.6 2402.9 L427.9 2410.9 L434.4 2420.5 L442.5 2430.1 L447.3 2442.9 L452.2 2452.5 L445.7 2458.9 L447.3 2465.3 L451.5 2467.9 L450.6 2457.3 L463.5 2458.9 L466.7 2465.3 L478.1 2466.9 L486.2 2474.9 L495.9 2481.4 L510.4 2484.6 L521.7 2476.6 L531.4 2470.1 L544.4 2470.1 L554.1 2466.9 L567.0 2470.1 L579.9 2468.5 L589.6 2463.7 L599.3 2455.7 L615.5 2454.1 L631.7 2457.3 L644.6 2457.3 L651.1 2453.2 L669.2 2454.1 L669.2 2455.1 L688.6 2460.5 L701.5 2462.1 L711.2 2452.5 L724.2 2454.1 L737.1 2455.7 L735.5 2447.7 L746.8 2442.9 L766.2 2444.5 L788.9 2434.9 L811.5 2420.5 L834.1 2404.5 L856.8 2385.2 L879.4 2362.8 L902.0 2346.8 L921.4 2327.6 L934.4 2308.3 L947.3 2289.1 L960.3 2269.9 L976.4 2253.9 L992.6 2244.3 L1002.3 2234.7 L1003.9 2225.0 L1000.7 2217.0 L1007.1 2212.2 L1013.6 2196.2 L1020.1 2177.0 L1021.7 2157.8 L1023.3 2138.5 L1020.1 2148.1 L1013.6 2140.1 L1003.9 2136.9 L1012.0 2132.1 L1018.5 2120.9 L1031.4 2111.3 L1057.3 2101.7 L1083.1 2093.7 L1105.8 2084.1 L1122.0 2068.0 L1125.2 2053.6 L1118.7 2052.0 L1122.0 2036.0 L1126.8 2016.8 L1123.6 1997.6 L1118.7 1971.9 L1112.3 1946.3 L1102.6 1927.1 L1092.9 1914.3 L1091.2 1904.6 L1093.5 1901.4 L1089.6 1885.7 L1096.1 1892.1 L1115.5 1875.5 L1134.9 1862.7 L1151.1 1854.7 L1154.3 1849.9 L1178.6 1821.0 L1180.2 1816.2 L1180.8 1821.0 L1199.6 1808.2 L1215.7 1797.0 L1230.6 1789.0 L1230.6 1790.6 L1243.6 1787.4 L1263.0 1782.6 L1279.1 1769.8 L1295.3 1756.9 L1311.5 1740.9 L1324.4 1721.7 L1327.6 1708.9 L1334.1 1692.9 L1330.9 1673.6 L1326.0 1654.4 L1322.8 1632.0 L1324.4 1612.8 L1321.2 1583.9 L1317.9 1558.3 L1322.8 1545.5 L1326.0 1526.3 L1316.3 1515.0 L1300.2 1510.2 L1290.4 1500.6 L1284.0 1478.2 L1279.1 1459.0 L1272.7 1436.5 L1279.1 1422.1 L1274.3 1417.3 L1271.0 1404.5 L1279.1 1391.7 L1282.4 1380.5 L1269.4 1372.5 L1258.1 1361.2 L1251.6 1345.2 L1259.7 1327.6 L1266.2 1307.7 L1266.2 1290.0Z M1665.6 1580.7 L1670.4 1583.9 L1678.5 1598.3 L1688.2 1612.8 L1696.3 1628.8 L1701.2 1651.2 L1704.4 1673.6 L1707.6 1692.9 L1714.1 1708.9 L1715.7 1718.5 L1710.9 1732.9 L1702.8 1740.3 L1696.3 1734.5 L1691.5 1721.7 L1683.4 1720.1 L1681.8 1731.3 L1688.2 1744.1 L1686.6 1756.9 L1689.8 1769.8 L1681.8 1785.8 L1676.9 1798.6 L1675.3 1814.6 L1667.2 1840.2 L1657.5 1865.9 L1649.4 1888.3 L1646.2 1901.4 L1647.8 1901.4 L1639.7 1920.7 L1631.6 1949.5 L1621.9 1975.1 L1613.8 2000.8 L1609.0 2029.6 L1599.3 2055.2 L1589.6 2074.5 L1579.9 2095.3 L1568.6 2103.3 L1554.0 2104.9 L1537.8 2111.3 L1521.7 2119.3 L1505.5 2120.9 L1489.3 2111.3 L1474.8 2106.5 L1463.5 2096.9 L1453.8 2084.1 L1446.7 2068.0 L1445.7 2045.6 L1450.5 2039.2 L1445.7 2032.8 L1440.8 2020.0 L1432.7 2004.0 L1428.5 1987.9 L1431.1 1975.1 L1437.6 1962.3 L1439.2 1951.1 L1450.5 1949.5 L1457.0 1933.5 L1466.7 1917.5 L1479.6 1901.4 L1478.0 1901.4 L1474.8 1881.9 L1468.3 1865.9 L1463.5 1846.6 L1458.6 1824.2 L1455.4 1803.4 L1461.9 1792.2 L1469.9 1779.4 L1476.4 1763.3 L1476.4 1748.9 L1489.3 1748.9 L1505.5 1740.9 L1521.7 1740.9 L1537.8 1732.9 L1550.8 1737.7 L1554.0 1728.1 L1570.2 1715.3 L1579.9 1708.9 L1592.8 1702.5 L1599.3 1692.9 L1615.5 1688.1 L1607.4 1676.8 L1617.1 1670.4 L1612.2 1657.6 L1618.7 1644.8 L1630.0 1644.8 L1626.8 1635.2 L1636.5 1640.0 L1647.8 1632.0 L1652.7 1616.0 L1649.4 1599.9 L1657.5 1593.5 L1665.6 1580.7Z"/><path d="M198.3 1307.7 L199.9 1314.8 L203.2 1323.8 L201.6 1329.2 L206.4 1338.8 L209.6 1346.8 L216.1 1361.2 L224.2 1375.7 L230.7 1391.7 L237.1 1407.7 L245.2 1425.3 L251.7 1438.1 L252.7 1449.4 L245.2 1454.2 L237.1 1462.2 L237.1 1468.6 L243.0 1479.8 L245.2 1491.0 L251.7 1505.4 L259.8 1519.8 L266.9 1532.7 L269.5 1543.9 L267.9 1561.5 L266.2 1577.5 L259.8 1593.5 L250.1 1604.7 L242.0 1607.0 L233.9 1614.4 L233.3 1620.8 L219.3 1633.6 L216.1 1641.6 L217.1 1654.4 L211.3 1664.0 L210.6 1680.0 L204.8 1696.1 L199.9 1712.1 L195.1 1728.1 L187.0 1731.9 L185.4 1737.7 L188.6 1750.5 L189.3 1763.3 L188.0 1774.6 L185.4 1789.0 L184.7 1805.0 L187.0 1821.0 L193.5 1833.8 L201.6 1843.4 L211.3 1851.5 L219.3 1865.9 L227.4 1880.3 L237.1 1897.9 L238.8 1904.6 L243.6 1914.3 L250.1 1931.9 L263.0 1951.1 L275.9 1971.9 L288.9 1986.3 L295.3 1999.2 L296.3 2012.0 L291.5 2016.8 L293.7 2032.8 L293.7 2052.0 L295.3 2068.0 L301.8 2082.5 L308.3 2096.9 L309.9 2116.1 L314.7 2138.5 L319.6 2157.8 L318.0 2167.4 L324.5 2183.4 L334.2 2201.0 L345.5 2217.0 L363.3 2231.4 L374.6 2239.5 L385.9 2257.1 L394.0 2276.3 L400.5 2295.5 L408.5 2314.7 L421.5 2334.0 L434.4 2351.6 L444.1 2366.0 L447.3 2382.0 L444.1 2399.7 L434.4 2404.5 L429.6 2402.9 L427.9 2410.9 L434.4 2420.5 L442.5 2430.1 L447.3 2442.9 L452.2 2452.5 L445.7 2458.9 L447.3 2465.3 L451.5 2467.9 L450.6 2457.3 L463.5 2458.9 L466.7 2465.3 L478.1 2466.9 L486.2 2474.9 L495.9 2481.4 L510.4 2484.6 L521.7 2476.6 L531.4 2470.1 L544.4 2470.1 L554.1 2466.9 L567.0 2470.1 L579.9 2468.5 L589.6 2463.7 L599.3 2455.7 L615.5 2454.1 L631.7 2457.3 L644.6 2457.3 L651.1 2453.2 L669.2 2454.1 L669.2 2455.1 L688.6 2460.5 L701.5 2462.1 L711.2 2452.5 L724.2 2454.1 L737.1 2455.7 L735.5 2447.7 L746.8 2442.9 L766.2 2444.5 L788.9 2434.9 L811.5 2420.5 L834.1 2404.5 L856.8 2385.2 L879.4 2362.8 L902.0 2346.8 L921.4 2327.6 L934.4 2308.3 L947.3 2289.1 L960.3 2269.9 L976.4 2253.9 L992.6 2244.3 L1002.3 2234.7 L1003.9 2225.0 L1000.7 2217.0 L1007.1 2212.2 L1013.6 2196.2 L1020.1 2177.0 L1021.7 2157.8 L1023.3 2138.5 L1020.1 2148.1 L1013.6 2140.1 L1003.9 2136.9 L1012.0 2132.1 L1018.5 2120.9 L1031.4 2111.3 L1057.3 2101.7 L1083.1 2093.7 L1105.8 2084.1 L1122.0 2068.0 L1125.2 2053.6 L1118.7 2052.0 L1122.0 2036.0 L1126.8 2016.8 L1123.6 1997.6 L1118.7 1971.9 L1112.3 1946.3 L1102.6 1927.1 L1092.9 1914.3 L1091.2 1904.6 L1093.5 1901.4 L1089.6 1885.7 L1096.1 1892.1 L1115.5 1875.5 L1134.9 1862.7 L1151.1 1854.7 L1154.3 1849.9 L1178.6 1821.0 L1180.2 1816.2 L1180.8 1821.0 L1199.6 1808.2 L1215.7 1797.0 L1230.6 1789.0 L1230.6 1790.6 L1243.6 1787.4 L1263.0 1782.6 L1279.1 1769.8 L1295.3 1756.9 L1311.5 1740.9 L1324.4 1721.7 L1327.6 1708.9 L1334.1 1692.9 L1330.9 1673.6 L1326.0 1654.4 L1322.8 1632.0 L1324.4 1612.8 L1321.2 1583.9 L1317.9 1558.3 L1322.8 1545.5 L1326.0 1526.3 L1316.3 1515.0 L1300.2 1510.2 L1290.4 1500.6 L1284.0 1478.2 L1279.1 1459.0 L1272.7 1436.5 L1279.1 1422.1 L1274.3 1417.3 L1271.0 1404.5 L1279.1 1391.7 L1282.4 1380.5 L1269.4 1372.5 L1258.1 1361.2 L1251.6 1345.2 L1259.7 1327.6 L1266.2 1307.7" fill="none" stroke="#111" stroke-width="2.2" stroke-linejoin="round"/><path d="M209.6 1346.8 L221.0 1343.6 L230.7 1338.8 L243.6 1338.8 L232.3 1343.0 L222.6 1346.2Z" fill="none" stroke="#111" stroke-width="2.2" stroke-linejoin="round"/><path d="M182.8 1761.7 L187.0 1766.5 L188.6 1774.6 L185.4 1769.8Z" fill="none" stroke="#111" stroke-width="2.2" stroke-linejoin="round"/><path d="M1665.6 1580.7 L1670.4 1583.9 L1678.5 1598.3 L1688.2 1612.8 L1696.3 1628.8 L1701.2 1651.2 L1704.4 1673.6 L1707.6 1692.9 L1714.1 1708.9 L1715.7 1718.5 L1710.9 1732.9 L1702.8 1740.3 L1696.3 1734.5 L1691.5 1721.7 L1683.4 1720.1 L1681.8 1731.3 L1688.2 1744.1 L1686.6 1756.9 L1689.8 1769.8 L1681.8 1785.8 L1676.9 1798.6 L1675.3 1814.6 L1667.2 1840.2 L1657.5 1865.9 L1649.4 1888.3 L1646.2 1901.4 L1647.8 1901.4 L1639.7 1920.7 L1631.6 1949.5 L1621.9 1975.1 L1613.8 2000.8 L1609.0 2029.6 L1599.3 2055.2 L1589.6 2074.5 L1579.9 2095.3 L1568.6 2103.3 L1554.0 2104.9 L1537.8 2111.3 L1521.7 2119.3 L1505.5 2120.9 L1489.3 2111.3 L1474.8 2106.5 L1463.5 2096.9 L1453.8 2084.1 L1446.7 2068.0 L1445.7 2045.6 L1450.5 2039.2 L1445.7 2032.8 L1440.8 2020.0 L1432.7 2004.0 L1428.5 1987.9 L1431.1 1975.1 L1437.6 1962.3 L1439.2 1951.1 L1450.5 1949.5 L1457.0 1933.5 L1466.7 1917.5 L1479.6 1901.4 L1478.0 1901.4 L1474.8 1881.9 L1468.3 1865.9 L1463.5 1846.6 L1458.6 1824.2 L1455.4 1803.4 L1461.9 1792.2 L1469.9 1779.4 L1476.4 1763.3 L1476.4 1748.9 L1489.3 1748.9 L1505.5 1740.9 L1521.7 1740.9 L1537.8 1732.9 L1550.8 1737.7 L1554.0 1728.1 L1570.2 1715.3 L1579.9 1708.9 L1592.8 1702.5 L1599.3 1692.9 L1615.5 1688.1 L1607.4 1676.8 L1617.1 1670.4 L1612.2 1657.6 L1618.7 1644.8 L1630.0 1644.8 L1626.8 1635.2 L1636.5 1640.0 L1647.8 1632.0 L1652.7 1616.0 L1649.4 1599.9 L1657.5 1593.5 L1665.6 1580.7Z" fill="none" stroke="#111" stroke-width="2.2" stroke-linejoin="round"/><path d="M1662.4 1585.5 L1666.6 1582.3 L1670.4 1587.1 L1667.2 1592.9 L1663.3 1591.0Z" fill="none" stroke="#111" stroke-width="2.2" stroke-linejoin="round"/><path d="M1688.2 1782.6 L1696.3 1769.1 L1693.7 1779.4 L1689.8 1785.1Z" fill="none" stroke="#111" stroke-width="2.2" stroke-linejoin="round"/><path d="M1623.6 1632.0 L1630.0 1630.4 L1631.6 1635.2 L1625.8 1636.8Z" fill="none" stroke="#111" stroke-width="2.2" stroke-linejoin="round"/><path d="M1271.0 1334.7 L1275.9 1335.6 L1282.4 1350.0 L1284.0 1361.2 L1279.1 1362.8 L1271.0 1351.6 L1268.8 1342.0Z" fill="none" stroke="#111" stroke-width="2.2" stroke-linejoin="round"/><path d="M1288.2 1307.7 L1293.7 1307.7 L1293.7 1318.0 L1288.8 1322.8 L1286.2 1318.0Z" fill="none" stroke="#111" stroke-width="2.2" stroke-linejoin="round"/><path d="M1285.6 1422.1 L1293.7 1412.5 L1298.5 1409.3 L1295.3 1418.9 L1288.2 1423.7Z" fill="none" stroke="#111" stroke-width="2.2" stroke-linejoin="round"/><path d="M1429.5 1558.3 L1434.4 1556.7 L1437.6 1571.1 L1439.2 1579.1 L1432.7 1579.1 L1427.2 1572.7Z" fill="none" stroke="#111" stroke-width="2.2" stroke-linejoin="round"/><path d="M1442.4 1591.9 L1448.9 1593.5 L1453.1 1596.7 L1446.7 1596.7Z" fill="none" stroke="#111" stroke-width="2.2" stroke-linejoin="round"/><path d="M1468.3 1587.8 L1479.0 1585.5 L1480.3 1596.7 L1474.8 1593.5Z" fill="none" stroke="#111" stroke-width="2.2" stroke-linejoin="round"/><path d="M1500.7 1609.6 L1510.4 1612.8 L1505.5 1619.8 L1502.3 1616.0Z" fill="none" stroke="#111" stroke-width="2.2" stroke-linejoin="round"/><path d="M1545.9 1478.2 L1552.4 1475.9 L1558.9 1478.8 L1552.4 1481.4Z" fill="none" stroke="#111" stroke-width="2.2" stroke-linejoin="round"/><path d="M871.3 1307.7 L876.2 1321.2 L881.0 1330.8 L874.6 1343.6 L884.3 1359.6 L892.3 1374.1 L908.5 1388.5 L915.0 1404.5 L924.7 1420.5 L929.5 1433.3 L924.7 1442.9 L937.6 1446.2 L947.3 1454.2 L953.8 1452.6 L953.8 1441.3 L947.3 1426.9 L937.6 1407.7 L929.5 1388.5 L927.9 1382.1 L918.2 1369.3 L906.9 1362.8 L895.6 1354.8 L898.8 1343.6 L905.3 1337.2 L897.2 1322.8 L899.5 1307.7" fill="#dcdcdc" stroke="#111" stroke-width="2.2" stroke-linejoin="round"/><path d="M840.6 1468.6 L863.2 1442.9 L872.9 1446.2 L872.3 1455.8 L855.2 1478.2 L846.4 1484.6 L840.6 1483.0Z" fill="#dcdcdc" stroke="#111" stroke-width="2.2" stroke-linejoin="round"/><path d="M885.9 1460.6 L895.6 1442.9 L910.1 1443.6 L902.0 1449.4 L894.0 1461.5Z" fill="#dcdcdc" stroke="#111" stroke-width="2.2" stroke-linejoin="round"/><path d="M976.4 1410.9 L982.9 1406.1 L992.6 1412.5 L1007.1 1425.3 L1016.9 1433.3 L1018.5 1439.7 L1012.0 1442.3 L1007.1 1436.5 L1005.5 1428.5 L992.6 1422.1 L981.3 1422.1Z" fill="#dcdcdc" stroke="#111" stroke-width="2.2" stroke-linejoin="round"/><path d="M886.5 1551.2 L895.6 1539.7 L906.9 1537.5 L907.9 1548.7 L900.4 1558.3 L890.7 1558.9Z" fill="#dcdcdc" stroke="#111" stroke-width="2.2" stroke-linejoin="round"/><path d="M892.3 1551.9 L900.4 1543.9 L903.7 1550.3 L897.2 1555.1Z" fill="#dcdcdc" stroke="#111" stroke-width="2.2" stroke-linejoin="round"/><path d="M758.1 1451.0 L764.6 1443.6 L772.0 1444.5 L767.8 1451.9 L760.4 1453.2Z" fill="#dcdcdc" stroke="#111" stroke-width="2.2" stroke-linejoin="round"/><path d="M786.3 1535.2 L795.3 1534.3 L790.5 1542.9Z" fill="#dcdcdc" stroke="#111" stroke-width="2.2" stroke-linejoin="round"/><path d="M1062.1 1483.0 L1067.0 1481.4 L1078.3 1492.6 L1086.4 1502.2 L1089.0 1526.3 L1089.6 1542.3 L1100.9 1556.7 L1103.2 1571.1 L1092.9 1587.1 L1091.2 1603.1 L1096.1 1619.2 L1097.7 1638.4 L1100.9 1649.6 L1107.4 1652.8 L1112.3 1667.2 L1115.5 1678.4 L1105.8 1673.6 L1099.3 1662.4 L1094.5 1670.4 L1088.0 1667.2 L1086.4 1654.4 L1079.9 1641.6 L1073.4 1622.4 L1070.2 1599.9 L1063.7 1590.3 L1071.8 1574.3 L1076.7 1567.9 L1073.4 1548.7 L1072.8 1516.6 L1063.7 1505.4 L1060.5 1491.0Z" fill="#dcdcdc" stroke="#111" stroke-width="2.2" stroke-linejoin="round"/><path d="M1111.6 1683.9 L1115.5 1682.6 L1116.8 1688.1 L1112.9 1690.3Z" fill="#dcdcdc" stroke="#111" stroke-width="2.2" stroke-linejoin="round"/><path d="M1129.1 1708.9 L1134.2 1707.3 L1136.5 1716.9 L1132.3 1721.1 L1128.4 1715.3Z" fill="none" stroke="#111" stroke-width="2.2" stroke-linejoin="round"/><path d="M936.0 1726.5 L944.1 1728.7 L953.8 1731.9 L966.7 1728.7 L979.7 1728.1 L995.8 1724.9 L1012.0 1722.3" fill="none" stroke="#111" stroke-width="3.2" stroke-linejoin="round"/><path d="M789.5 1819.4 L801.8 1798.6 L811.5 1782.6 L824.4 1773.0 L840.6 1763.3 L853.5 1760.1 L864.9 1763.3 L861.6 1771.4 L848.7 1769.8 L830.9 1779.4 L814.7 1795.4 L801.8 1808.2Z" fill="#dcdcdc" stroke="#111" stroke-width="2.2" stroke-linejoin="round"/><path d="M1106.4 1757.9 L1109.7 1757.9 L1109.7 1761.1 L1106.4 1761.1Z" fill="#dcdcdc" stroke="#111" stroke-width="2.2" stroke-linejoin="round"/><path d="M835.9 2171.5 L842.0 2173.1 L846.8 2176.3 L843.2 2181.6 L838.3 2178.0Z" fill="#111" stroke="#111" stroke-width="1.8" stroke-linejoin="round"/><path d="M737.2 2201.2 L743.3 2197.6 L748.1 2198.8 L759.0 2194.0 L750.6 2201.2 L753.0 2207.2 L745.7 2209.2 L740.8 2206.0Z" fill="#111" stroke="#111" stroke-width="1.5" stroke-linejoin="round"/><path d="M699.4 2295.1 L703.1 2297.5 L706.7 2302.3 L701.8 2299.9Z" fill="#111" stroke="#111" stroke-width="1.5" stroke-linejoin="round"/><path d="M732.3 2318.6 L737.1 2320.5 L742.0 2319.8 L737.1 2322.9Z" fill="#111" stroke="#111" stroke-width="1.5" stroke-linejoin="round"/><path d="M1121.4 1961.6 L1123.4 1962.8 L1121.9 1967.6 L1120.5 1965.2Z" fill="#111" stroke="#111" stroke-width="1.5" stroke-linejoin="round"/><path d="M1120.6 1986.0 L1123.8 1987.2 L1121.8 1994.5 L1119.4 1992.0Z" fill="#111" stroke="#111" stroke-width="1.5" stroke-linejoin="round"/><path d="M1001.2 2215.2 L1006.1 2217.6 L1003.7 2223.6 L1000.5 2221.2Z" fill="#111" stroke="#111" stroke-width="1.5" stroke-linejoin="round"/><mask id="dm" maskUnits="userSpaceOnUse" x="100" y="1290" width="1700" height="1220"><rect x="100" y="1290" width="1700" height="1220" fill="#fff"/><g fill="none" stroke="#000" stroke-width="3.2"><path d="M198.4 1672.4 C201.3 1675.6 209.4 1685.3 216.1 1691.8 C222.8 1698.2 230.1 1704.7 238.7 1711.1 C247.3 1717.6 257.5 1724.8 267.7 1730.5 C278.0 1736.1 288.2 1741.0 300.0 1745.0 C311.8 1749.0 325.3 1752.7 338.7 1754.7 C352.2 1756.7 366.7 1756.9 380.6 1756.9 C394.6 1756.9 408.6 1756.4 422.6 1754.7 C436.6 1753.0 450.5 1750.1 464.5 1746.6 C478.5 1743.1 491.9 1739.1 506.5 1733.7 C521.0 1728.3 537.6 1721.1 551.6 1714.4 C565.6 1707.6 577.4 1700.9 590.3 1693.4 C603.2 1685.9 617.4 1676.5 629.0 1669.2 C640.6 1661.9 646.8 1658.2 660.0 1649.8 C673.2 1641.5 692.3 1628.9 708.4 1619.2 C724.5 1609.5 740.6 1600.1 756.8 1591.8 C772.9 1583.4 791.4 1575.2 805.2 1569.2 C818.9 1563.2 828.6 1560.0 839.4 1556.0 C850.1 1551.9 860.1 1548.4 869.7 1545.0 C879.3 1541.6 885.4 1539.2 897.1 1535.3 C908.8 1531.4 925.8 1525.4 940.0 1521.5 C954.2 1517.5 970.1 1514.3 982.6 1511.8 C995.1 1509.2 1004.1 1507.7 1014.8 1506.3 C1025.6 1504.8 1036.3 1504.0 1047.1 1503.1 C1057.8 1502.2 1068.6 1501.2 1079.4 1500.8 C1090.1 1500.4 1100.9 1500.4 1111.6 1500.8 C1122.4 1501.2 1132.0 1501.8 1143.9 1503.1 C1155.7 1504.4 1169.9 1506.1 1182.6 1508.5 C1195.3 1511.0 1208.4 1513.9 1220.0 1517.6 C1231.6 1521.2 1241.5 1524.6 1252.3 1530.5 C1263.0 1536.4 1274.8 1545.5 1284.5 1553.1 C1294.2 1560.6 1302.3 1567.8 1310.3 1575.6 C1318.4 1583.4 1329.1 1595.8 1332.9 1599.8"/><path d="M1013.2 2155.0 C1008.1 2148.8 993.1 2128.4 982.6 2117.9 C972.1 2107.4 961.1 2099.1 950.3 2092.1 C939.6 2085.1 928.8 2079.5 918.1 2076.0 C907.3 2072.5 895.5 2071.1 885.8 2071.1 C876.1 2071.1 868.6 2072.5 860.0 2076.0 C851.4 2079.5 842.3 2085.1 834.2 2092.1 C826.1 2099.1 818.6 2108.2 811.6 2117.9 C804.6 2127.6 797.6 2138.9 792.3 2150.2 C786.9 2161.5 782.3 2173.8 779.4 2185.6 C776.4 2197.5 774.8 2209.8 774.5 2221.1 C774.2 2232.4 775.9 2242.6 777.7 2253.4 C779.6 2264.1 782.3 2275.4 785.8 2285.6 C789.3 2295.9 793.9 2306.6 798.7 2314.7 C803.5 2322.7 808.4 2328.9 814.8 2334.0 C821.3 2339.1 829.4 2343.2 837.4 2345.3 C845.5 2347.5 854.1 2347.7 863.2 2346.9 C872.4 2346.1 883.1 2344.0 892.3 2340.5 C901.4 2337.0 913.8 2328.4 918.1 2326.0"/></g></mask><g fill="none" stroke="#000" stroke-width="9.6" mask="url(#dm)"><path d="M198.4 1672.4 C201.3 1675.6 209.4 1685.3 216.1 1691.8 C222.8 1698.2 230.1 1704.7 238.7 1711.1 C247.3 1717.6 257.5 1724.8 267.7 1730.5 C278.0 1736.1 288.2 1741.0 300.0 1745.0 C311.8 1749.0 325.3 1752.7 338.7 1754.7 C352.2 1756.7 366.7 1756.9 380.6 1756.9 C394.6 1756.9 408.6 1756.4 422.6 1754.7 C436.6 1753.0 450.5 1750.1 464.5 1746.6 C478.5 1743.1 491.9 1739.1 506.5 1733.7 C521.0 1728.3 537.6 1721.1 551.6 1714.4 C565.6 1707.6 577.4 1700.9 590.3 1693.4 C603.2 1685.9 617.4 1676.5 629.0 1669.2 C640.6 1661.9 646.8 1658.2 660.0 1649.8 C673.2 1641.5 692.3 1628.9 708.4 1619.2 C724.5 1609.5 740.6 1600.1 756.8 1591.8 C772.9 1583.4 791.4 1575.2 805.2 1569.2 C818.9 1563.2 828.6 1560.0 839.4 1556.0 C850.1 1551.9 860.1 1548.4 869.7 1545.0 C879.3 1541.6 885.4 1539.2 897.1 1535.3 C908.8 1531.4 925.8 1525.4 940.0 1521.5 C954.2 1517.5 970.1 1514.3 982.6 1511.8 C995.1 1509.2 1004.1 1507.7 1014.8 1506.3 C1025.6 1504.8 1036.3 1504.0 1047.1 1503.1 C1057.8 1502.2 1068.6 1501.2 1079.4 1500.8 C1090.1 1500.4 1100.9 1500.4 1111.6 1500.8 C1122.4 1501.2 1132.0 1501.8 1143.9 1503.1 C1155.7 1504.4 1169.9 1506.1 1182.6 1508.5 C1195.3 1511.0 1208.4 1513.9 1220.0 1517.6 C1231.6 1521.2 1241.5 1524.6 1252.3 1530.5 C1263.0 1536.4 1274.8 1545.5 1284.5 1553.1 C1294.2 1560.6 1302.3 1567.8 1310.3 1575.6 C1318.4 1583.4 1329.1 1595.8 1332.9 1599.8"/><path d="M1013.2 2155.0 C1008.1 2148.8 993.1 2128.4 982.6 2117.9 C972.1 2107.4 961.1 2099.1 950.3 2092.1 C939.6 2085.1 928.8 2079.5 918.1 2076.0 C907.3 2072.5 895.5 2071.1 885.8 2071.1 C876.1 2071.1 868.6 2072.5 860.0 2076.0 C851.4 2079.5 842.3 2085.1 834.2 2092.1 C826.1 2099.1 818.6 2108.2 811.6 2117.9 C804.6 2127.6 797.6 2138.9 792.3 2150.2 C786.9 2161.5 782.3 2173.8 779.4 2185.6 C776.4 2197.5 774.8 2209.8 774.5 2221.1 C774.2 2232.4 775.9 2242.6 777.7 2253.4 C779.6 2264.1 782.3 2275.4 785.8 2285.6 C789.3 2295.9 793.9 2306.6 798.7 2314.7 C803.5 2322.7 808.4 2328.9 814.8 2334.0 C821.3 2339.1 829.4 2343.2 837.4 2345.3 C845.5 2347.5 854.1 2347.7 863.2 2346.9 C872.4 2346.1 883.1 2344.0 892.3 2340.5 C901.4 2337.0 913.8 2328.4 918.1 2326.0"/></g><text x="614" y="1544.5" font-size="51.5" font-weight="bold" font-family="'Liberation Serif', serif" filter="url(#sh2)" fill="#000">bi-modal</text></g><rect x="118.3" y="1305.0" width="1656.7" height="1189.4" fill="none" stroke="#111" stroke-width="4.6"/><path d="M102.8 1423.9 H116.3" stroke="#111" stroke-width="3"/><text x="93.0" y="1437.6" font-size="39.5" text-anchor="end">8S</text><path d="M102.8 1582.4 H116.3" stroke="#111" stroke-width="3"/><text x="93.0" y="1596.1" font-size="39.5" text-anchor="end">12S</text><path d="M102.8 1740.9 H116.3" stroke="#111" stroke-width="3"/><text x="93.0" y="1754.6" font-size="39.5" text-anchor="end">16S</text><path d="M102.8 1899.5 H116.3" stroke="#111" stroke-width="3"/><text x="93.0" y="1913.2" font-size="39.5" text-anchor="end">20S</text><path d="M102.8 2058.0 H116.3" stroke="#111" stroke-width="3"/><text x="93.0" y="2071.7" font-size="39.5" text-anchor="end">24S</text><path d="M102.8 2216.5 H116.3" stroke="#111" stroke-width="3"/><text x="93.0" y="2230.2" font-size="39.5" text-anchor="end">28S</text><path d="M102.8 2375.0 H116.3" stroke="#111" stroke-width="3"/><text x="93.0" y="2388.7" font-size="39.5" text-anchor="end">32S</text><path d="M197.2 2496.4 V2505.4" stroke="#111" stroke-width="3"/><text x="198.7" y="2539.9" font-size="39.5" text-anchor="middle">12E</text><path d="M355.0 2496.4 V2505.4" stroke="#111" stroke-width="3"/><text x="356.5" y="2539.9" font-size="39.5" text-anchor="middle">16E</text><path d="M512.8 2496.4 V2505.4" stroke="#111" stroke-width="3"/><text x="514.3" y="2539.9" font-size="39.5" text-anchor="middle">20E</text><path d="M670.6 2496.4 V2505.4" stroke="#111" stroke-width="3"/><text x="672.1" y="2539.9" font-size="39.5" text-anchor="middle">24E</text><path d="M828.4 2496.4 V2505.4" stroke="#111" stroke-width="3"/><text x="829.9" y="2539.9" font-size="39.5" text-anchor="middle">28E</text><path d="M986.2 2496.4 V2505.4" stroke="#111" stroke-width="3"/><text x="987.7" y="2539.9" font-size="39.5" text-anchor="middle">32E</text><path d="M1144.0 2496.4 V2505.4" stroke="#111" stroke-width="3"/><text x="1145.5" y="2539.9" font-size="39.5" text-anchor="middle">36E</text><path d="M1301.8 2496.4 V2505.4" stroke="#111" stroke-width="3"/><text x="1303.3" y="2539.9" font-size="39.5" text-anchor="middle">40E</text><path d="M1459.6 2496.4 V2505.4" stroke="#111" stroke-width="3"/><text x="1461.1" y="2539.9" font-size="39.5" text-anchor="middle">44E</text><path d="M1617.4 2496.4 V2505.4" stroke="#111" stroke-width="3"/><text x="1618.9" y="2539.9" font-size="39.5" text-anchor="middle">48E</text><path d="M1775.2 2496.4 V2505.4" stroke="#111" stroke-width="3"/><text x="1776.7" y="2539.9" font-size="39.5" text-anchor="middle">52E</text><path d="M1896.3 1519.0 L1919.2 1430.5 L1942.0 1519.0 Z" fill="#f00082"/><path d="M1896.3 2283.6 L1919.2 2369.0 L1942.0 2283.6 Z" fill="#8200dc"/><rect x="1896.3" y="1519.0" width="45.7" height="85.0" fill="#fa3c3c"/><rect x="1896.3" y="1604.0" width="45.7" height="85.0" fill="#f08228"/><rect x="1896.3" y="1688.9" width="45.7" height="84.9" fill="#e6af2d"/><rect x="1896.3" y="1773.8" width="45.7" height="85.0" fill="#e6dc32"/><rect x="1896.3" y="1858.8" width="45.7" height="85.0" fill="#dcdcdc"/><rect x="1896.3" y="1943.8" width="45.7" height="85.0" fill="#a0e632"/><rect x="1896.3" y="2028.7" width="45.7" height="85.0" fill="#00dc00"/><rect x="1896.3" y="2113.7" width="45.7" height="84.9" fill="#00a0ff"/><rect x="1896.3" y="2198.6" width="45.7" height="85.0" fill="#1e3cff"/><path d="M1896.3 1519.0 H1942.0" stroke="#1c1c1c" stroke-width="2.6" stroke-opacity="0.9"/><path d="M1896.3 1604.0 H1942.0" stroke="#1c1c1c" stroke-width="2.6" stroke-opacity="0.9"/><path d="M1896.3 1688.9 H1942.0" stroke="#1c1c1c" stroke-width="2.6" stroke-opacity="0.9"/><path d="M1896.3 1773.8 H1942.0" stroke="#1c1c1c" stroke-width="2.6" stroke-opacity="0.9"/><path d="M1896.3 1858.8 H1942.0" stroke="#1c1c1c" stroke-width="2.6" stroke-opacity="0.9"/><path d="M1896.3 1943.8 H1942.0" stroke="#1c1c1c" stroke-width="2.6" stroke-opacity="0.9"/><path d="M1896.3 2028.7 H1942.0" stroke="#1c1c1c" stroke-width="2.6" stroke-opacity="0.9"/><path d="M1896.3 2113.7 H1942.0" stroke="#1c1c1c" stroke-width="2.6" stroke-opacity="0.9"/><path d="M1896.3 2198.6 H1942.0" stroke="#1c1c1c" stroke-width="2.6" stroke-opacity="0.9"/><path d="M1896.3 2283.6 H1942.0" stroke="#1c1c1c" stroke-width="2.6" stroke-opacity="0.9"/><path d="M1896.3 1519.0 L1919.2 1432.5 L1942.0 1519.0 L1942.0 2283.6 L1919.2 2367.0 L1896.3 2283.6 Z" fill="none" stroke="#1c1c1c" stroke-opacity="0.9" stroke-width="4" stroke-linejoin="round"/><text x="1950.0" y="1531.6" font-size="37" stroke="#111" stroke-width="0.5" textLength="57.0" lengthAdjust="spacingAndGlyphs">0.6</text><text x="1950.0" y="1616.5" font-size="37" stroke="#111" stroke-width="0.5" textLength="82.0" lengthAdjust="spacingAndGlyphs">0.48</text><text x="1950.0" y="1701.5" font-size="37" stroke="#111" stroke-width="0.5" textLength="82.0" lengthAdjust="spacingAndGlyphs">0.36</text><text x="1950.0" y="1786.4" font-size="37" stroke="#111" stroke-width="0.5" textLength="82.0" lengthAdjust="spacingAndGlyphs">0.24</text><text x="1950.0" y="1871.4" font-size="37" stroke="#111" stroke-width="0.5" textLength="82.0" lengthAdjust="spacingAndGlyphs">0.12</text><text x="1950.0" y="1956.3" font-size="37" stroke="#111" stroke-width="0.5" textLength="116.0" lengthAdjust="spacingAndGlyphs">−0.12</text><text x="1950.0" y="2041.3" font-size="37" stroke="#111" stroke-width="0.5" textLength="116.0" lengthAdjust="spacingAndGlyphs">−0.24</text><text x="1950.0" y="2126.2" font-size="37" stroke="#111" stroke-width="0.5" textLength="116.0" lengthAdjust="spacingAndGlyphs">−0.36</text><text x="1950.0" y="2211.2" font-size="37" stroke="#111" stroke-width="0.5" textLength="116.0" lengthAdjust="spacingAndGlyphs">−0.48</text><text x="1950.0" y="2296.2" font-size="37" stroke="#111" stroke-width="0.5" textLength="91.0" lengthAdjust="spacingAndGlyphs">−0.6</text><text x="1814.5" y="2494" font-size="92" font-weight="bold" font-family="'Liberation Serif', serif" filter="url(#sh)" fill="#000">b</text></svg></body></html>
